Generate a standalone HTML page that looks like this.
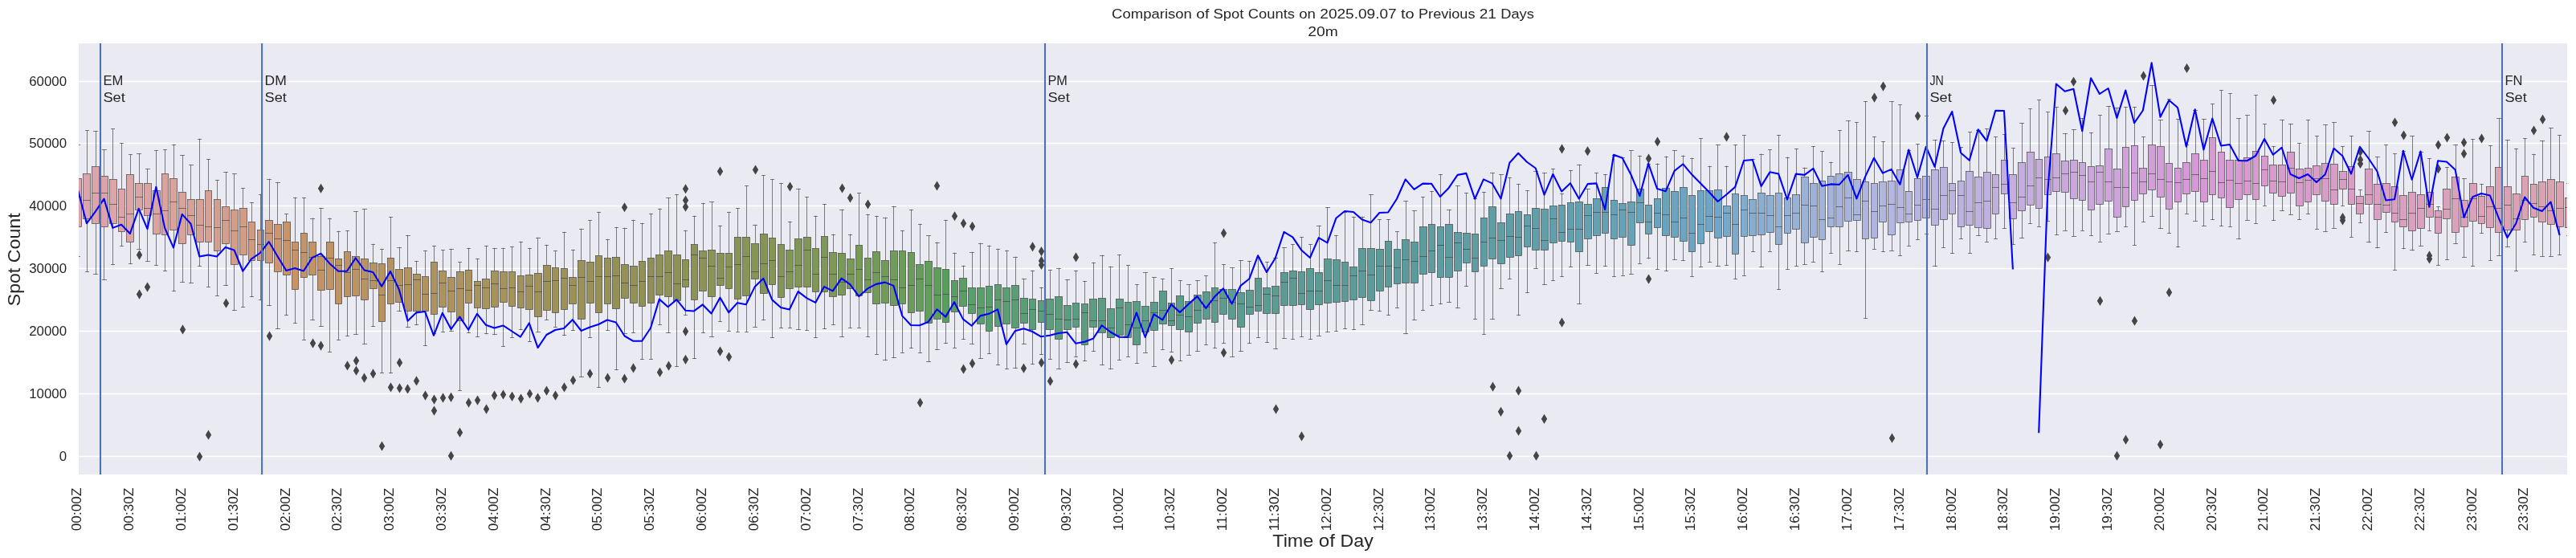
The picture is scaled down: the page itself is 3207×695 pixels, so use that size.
<!DOCTYPE html>
<html><head><meta charset="utf-8"><title>Comparison of Spot Counts</title>
<style>html,body{margin:0;padding:0;background:#fff}body{width:3207px;height:695px;overflow:hidden;font-family:"Liberation Sans",sans-serif}svg{display:block}</style>
</head><body>
<svg width="3207" height="695" viewBox="0 0 3207 695" role="img" aria-label="Comparison of Spot Counts on 2025.09.07 to Previous 21 Days, 20m">
<defs><clipPath id="c"><rect x="98" y="54" width="3098" height="537"/></clipPath></defs>
<rect width="3207" height="695" fill="#fff"/>
<rect x="98" y="54" width="3098" height="537" fill="#eaeaf2"/>
<path d="M98 568.5H3196M98 490.5H3196M98 412.5H3196M98 334.5H3196M98 256.5H3196M98 178.5H3196M98 101.5H3196" stroke="#fff" stroke-width="1.39" fill="none"/>
<g clip-path="url(#c)">
<path d="M97.5 222.56V180.25M95.5 180.5H99.5M97.5 282.08V319.31M95.5 319.5H99.5M108.5 216.74V162.5M106.5 162.5H110.5M108.5 272.45V338.26M106.5 338.5H110.5M119.5 207.37V163.5M116.5 163.5H121.5M119.5 278.03V341.52M116.5 341.5H121.5M129.5 219.78V186.5M127.5 186.5H132.5M129.5 282.08V348.55M127.5 348.5H132.5M140.5 223.83V160.5M138.5 160.5H142.5M140.5 278.03V329.73M138.5 329.5H142.5M151.5 235.99V178.5M149.5 178.5H153.5M151.5 288.16V306.39M149.5 306.5H153.5M162.5 217.5V192.5M160.5 192.5H164.5M162.5 301.32V328.48M160.5 328.5H164.5M173.5 228.9V191.5M170.5 191.5H175.5M173.5 261.82V310.44M170.5 310.5H175.5M183.5 228.9V210.5M181.5 210.5H186.5M183.5 268.91V325.47M181.5 325.5H186.5M194.5 237.76V187.5M192.5 187.5H196.5M194.5 291.19V330.49M192.5 330.5H196.5M205.5 216.74V186.5M203.5 186.5H207.5M205.5 292.21V337.51M203.5 337.5H207.5M216.5 222.82V180.25M214.5 180.5H218.5M216.5 286.13V362.59M214.5 362.5H218.5M227.5 239.79V193.5M224.5 193.5H229.5M227.5 303.1V351.55M224.5 351.5H229.5M237.5 248.9V205.5M235.5 205.5H240.5M237.5 292.21V352.56M235.5 352.5H240.5M248.5 248.9V173.25M246.5 173.5H250.5M248.5 301.32V331.49M246.5 331.5H250.5M259.5 237.76V198.5M257.5 198.5H261.5M259.5 301.32V357.57M257.5 357.5H261.5M270.5 248.9V224.5M268.5 224.5H272.5M270.5 312.21V368.36M268.5 368.5H272.5M281.5 257.01V214.5M278.5 214.5H283.5M281.5 303.1V355.57M278.5 355.5H283.5M291.5 261.06V216.5M289.5 216.5H294.5M291.5 329.73V386.67M289.5 386.5H294.5M302.5 259.03V234.5M300.5 234.5H304.5M302.5 317.28V382.4M300.5 382.5H304.5M313.5 276.25V252.5M311.5 252.5H315.5M313.5 324.47V369.61M311.5 369.5H315.5M324.5 286.13V242.25M322.5 242.5H326.5M324.5 324.47V373.63M322.5 373.5H326.5M335.5 274.99V223.25M332.5 223.5H337.5M335.5 327.48V380.65M332.5 380.5H337.5M345.5 279.29V227.25M343.5 227.5H348.5M345.5 338.51V409.49M343.5 409.5H348.5M356.5 276.25V266.5M354.5 266.5H358.5M356.5 342.53V392.69M354.5 392.5H358.5M367.5 301.32V246.25M365.5 246.5H369.5M367.5 360.33V402.47M365.5 402.5H369.5M378.5 290.18V246.25M376.5 246.5H380.5M378.5 345.54V423.28M376.5 423.5H380.5M389.5 301.32V272M386.5 272.5H391.5M389.5 342.53V398.71M386.5 398.5H391.5M399.5 319.31V259.25M397.5 259.5H402.5M399.5 361.59V406.48M397.5 406.5H402.5M410.5 301.32V272M408.5 272.5H412.5M410.5 360.33V438.33M408.5 438.5H412.5M421.5 322.6V288.2M419.5 288.5H423.5M421.5 378.64V423.54M419.5 423.5H423.5M432.5 313.36V287.45M430.5 287.5H434.5M432.5 369.47V418.52M430.5 418.5H434.5M443.5 319.4V263.53M440.5 263.5H445.5M443.5 368.47V416.51M440.5 416.5H445.5M453.5 322.42V260.52M451.5 260.5H456.5M453.5 373.5V428.55M451.5 428.5H456.5M464.5 327.45V304.31M462.5 304.5H466.5M464.5 359.41V406.48M462.5 406.5H466.5M475.5 328.46V310.35M473.5 310.5H477.5M475.5 400.67V464.67M473.5 464.5H477.5M486.5 321.42V270.55M484.5 270.5H488.5M486.5 378.53V464.67M484.5 464.5H488.5M497.5 335.51V308.33M494.5 308.5H499.5M497.5 376.52V387.59M494.5 387.5H499.5M507.5 333.49V293.24M505.5 293.5H510.5M507.5 387.59V407.72M505.5 407.5H510.5M518.5 341.55V325.44M516.5 325.5H520.5M518.5 387.59V404.7M516.5 404.5H520.5M529.5 344.56V312.36M527.5 312.5H531.5M529.5 387.59V430.56M527.5 430.5H531.5M540.5 326.45V306.32M538.5 306.5H542.5M540.5 391.36V415.76M538.5 415.5H542.5M551.5 337.52V311.35M549.5 311.5H553.5M551.5 382.56V413.76M549.5 413.5H553.5M561.5 345.57V310.35M559.5 310.5H564.5M561.5 388.6V412.5M559.5 412.5H564.5M572.5 338.53V326.45M570.5 326.5H574.5M572.5 399.42V486.49M570.5 486.5H574.5M583.5 336.51V309.34M581.5 309.5H585.5M583.5 377.53V414.51M581.5 414.5H585.5M594.5 350.6V322.42M592.5 322.5H596.5M594.5 383.56V419.55M592.5 419.5H596.5M605.5 347.58V306.32M603.5 306.5H607.5M605.5 384.32V415.77M603.5 415.5H607.5M615.5 337.52V309.34M613.5 309.5H618.5M615.5 382.56V416.78M613.5 416.5H618.5M626.5 338.53V309.34M624.5 309.5H628.5M626.5 376.52V431.56M624.5 431.5H628.5M637.5 338.53V307.33M635.5 307.5H639.5M637.5 381.55V420.53M635.5 420.5H639.5M648.5 343.56V301.29M646.5 301.5H650.5M648.5 383.31V410.74M646.5 410.5H650.5M659.5 342.55V309.34M657.5 309.5H661.5M659.5 385.58V425.54M657.5 425.5H661.5M669.5 340.54V296.25M667.5 296.5H672.5M669.5 394.64V413.76M667.5 413.5H672.5M680.5 330.47V305.31M678.5 305.5H682.5M680.5 386.58V398.41M678.5 398.5H682.5M691.5 333.49V312.36M689.5 312.5H693.5M691.5 389.6V407.72M689.5 407.5H693.5M702.5 334.5V289.21M700.5 289.5H704.5M702.5 385.58V417.78M700.5 417.5H704.5M713.5 345.57V311.35M711.5 311.5H715.5M713.5 378.53V411.49M711.5 411.5H715.5M723.5 324.44V285.18M721.5 285.5H726.5M723.5 397.4V469.43M721.5 469.5H726.5M734.5 326.45V274.57M732.5 274.5H736.5M734.5 377.53V420.53M732.5 420.5H736.5M745.5 318.19V264.25M743.5 264.5H747.5M745.5 389.21V482.47M743.5 482.5H747.5M756.5 321.2V298.25M754.5 298.5H758.5M756.5 378.16V411.5M754.5 411.5H758.5M767.5 320.2V283.25M765.5 283.5H769.5M767.5 384.19V460.65M765.5 460.5H769.5M777.5 329.23V284.25M775.5 284.5H780.5M777.5 371.14V415.51M775.5 415.5H780.5M788.5 331.24V274.25M786.5 274.5H790.5M788.5 377.16V414.51M786.5 414.5H790.5M799.5 325.22V278.25M797.5 278.5H801.5M799.5 381.18V447.61M797.5 447.5H801.5M810.5 321.2V266.25M808.5 266.5H812.5M810.5 377.16V447.61M808.5 447.5H812.5M821.5 317.19V260.25M819.5 260.5H823.5M821.5 367.12V404.47M819.5 404.5H823.5M832.5 312.17V246.5M829.5 246.5H834.5M832.5 369.13V414.51M829.5 414.5H834.5M842.5 317.19V242.25M840.5 242.5H844.5M842.5 374.65V456.64M840.5 456.5H844.5M853.5 323.21V287.25M851.5 287.5H855.5M853.5 357.08V392.44M851.5 392.5H855.5M864.5 304.14V269.25M862.5 269.5H866.5M864.5 373.14V446.61M862.5 446.5H866.5M875.5 312.17V253.25M873.5 253.5H877.5M875.5 362.1V414.51M873.5 414.5H877.5M886.5 311.16V251.5M883.5 251.5H888.5M886.5 369.13V419.52M883.5 419.5H888.5M896.5 315.18V281.25M894.5 281.5H898.5M896.5 355.08V400.46M894.5 400.5H898.5M907.5 315.18V264.25M905.5 264.5H909.5M907.5 359.09V412.5M905.5 412.5H909.5M918.5 295.1V259.5M916.5 259.5H920.5M918.5 372.14V413.5M916.5 413.5H920.5M929.5 295.1V231.5M927.5 231.5H931.5M929.5 368.13V413.5M927.5 413.5H931.5M940.5 303.13V280.25M937.5 280.5H942.5M940.5 347.05V407.48M937.5 407.5H942.5M950.5 291.34V218.5M948.5 218.5H952.5M950.5 365.11V398.45M948.5 398.5H952.5M961.5 296.11V223.5M959.5 223.5H963.5M961.5 354.07V420.53M959.5 420.5H963.5M972.5 304.14V228.25M970.5 228.5H974.5M972.5 370.13V408.49M970.5 408.5H974.5M983.5 311.16V276.25M981.5 276.5H985.5M983.5 359.09V408.49M981.5 408.5H985.5M994.5 297.11V235.25M991.5 235.5H996.5M994.5 357.08V410.49M991.5 410.5H996.5M1004.5 295.1V245.5M1002.5 245.5H1006.5M1004.5 357.08V411.5M1002.5 411.5H1006.5M1015.5 309.15V269.25M1013.5 269.5H1017.5M1015.5 363.11V420.53M1013.5 420.5H1017.5M1026.5 294.1V254.5M1024.5 254.5H1028.5M1026.5 363.11V409.49M1024.5 409.5H1028.5M1037.5 314.17V292M1035.5 292.5H1039.5M1037.5 369.13V404.47M1035.5 404.5H1039.5M1048.5 315.18V261.25M1045.5 261.5H1050.5M1048.5 367.12V419.52M1045.5 419.5H1050.5M1058.5 322.2V292M1056.5 292.5H1060.5M1058.5 359.09V408.49M1056.5 408.5H1060.5M1069.5 305.06V240.5M1067.5 240.5H1071.5M1069.5 368.47V408.22M1067.5 408.5H1071.5M1080.5 321.16V267.25M1078.5 267.5H1082.5M1080.5 364.44V419.55M1078.5 419.5H1082.5M1091.5 313.11V269.25M1089.5 269.5H1093.5M1091.5 378.28V441.59M1089.5 441.5H1093.5M1102.5 324.18V271.25M1099.5 271.5H1104.5M1102.5 377.27V448.62M1099.5 448.5H1104.5M1112.5 312.11V257.25M1110.5 257.5H1115.5M1112.5 380.29V445.61M1110.5 445.5H1115.5M1123.5 312.11V287.25M1121.5 287.5H1125.5M1123.5 378.28V439.59M1121.5 439.5H1125.5M1134.5 314.12V261.5M1132.5 261.5H1136.5M1134.5 389.35V433.57M1132.5 433.5H1136.5M1145.5 329.22V279.25M1143.5 279.5H1147.5M1145.5 387.34V439.59M1143.5 439.5H1147.5M1156.5 325.19V293.99M1153.5 293.5H1158.5M1156.5 402.18V450.37M1153.5 450.5H1158.5M1166.5 333.24V302.04M1164.5 302.5H1169.5M1166.5 397.4V435.57M1164.5 435.5H1169.5M1177.5 335.25V274.25M1175.5 274.5H1179.5M1177.5 401.43V427.55M1175.5 427.5H1179.5M1188.5 349.35V315.13M1186.5 315.5H1190.5M1188.5 388.35V433.57M1186.5 433.5H1190.5M1199.5 346.33V331.23M1197.5 331.5H1201.5M1199.5 381.3V422.53M1197.5 422.5H1201.5M1210.5 358.15V314.12M1207.5 314.5H1212.5M1210.5 390.36V428.55M1207.5 428.5H1212.5M1220.5 358.15V303.05M1218.5 303.5H1223.5M1220.5 403.44V446.61M1218.5 446.5H1223.5M1231.5 356.39V306.07M1229.5 306.5H1233.5M1231.5 412.5V440.59M1229.5 440.5H1233.5M1242.5 354.38V310.09M1240.5 310.5H1244.5M1242.5 406.46V454.64M1240.5 454.5H1244.5M1253.5 358.15V312.11M1251.5 312.5H1255.5M1253.5 403.44V459.65M1251.5 459.5H1255.5M1264.5 355.38V320.16M1261.5 320.5H1266.5M1264.5 408.47V458.65M1261.5 458.5H1266.5M1274.5 371.49V347.33M1272.5 347.5H1277.5M1274.5 402.44V428.55M1272.5 428.5H1277.5M1285.5 372.24V337.27M1283.5 337.5H1287.5M1285.5 410.49V453.63M1283.5 453.5H1287.5M1296.5 374.25V358.15M1294.5 358.5H1298.5M1296.5 401.43V441.59M1294.5 441.5H1298.5M1307.5 372.24V336.26M1305.5 336.5H1309.5M1307.5 410.49V447.61M1305.5 447.5H1309.5M1318.5 369.47V334.25M1315.5 334.5H1320.5M1318.5 422.31V459.65M1315.5 459.5H1320.5M1328.5 380.29V348.34M1326.5 348.5H1331.5M1328.5 410.49V451.63M1326.5 451.5H1331.5M1339.5 377.27V337.27M1337.5 337.5H1341.5M1339.5 407.22V444.6M1337.5 444.5H1341.5M1350.5 378.28V350.35M1348.5 350.5H1352.5M1350.5 429.36V449.62M1348.5 449.5H1352.5M1361.5 372.24V327.2M1359.5 327.5H1363.5M1361.5 407.22V437.58M1359.5 437.5H1363.5M1372.5 371.49V318.15M1369.5 318.5H1374.5M1372.5 414.26V454.64M1369.5 454.5H1374.5M1382.5 384.57V332.24M1380.5 332.5H1385.5M1382.5 420.55V459.65M1380.5 459.5H1385.5M1393.5 372.62V317.45M1391.5 317.5H1395.5M1393.5 417.52V448.34M1391.5 448.5H1395.5M1404.5 376.64V330.49M1402.5 330.5H1406.5M1404.5 420.53V444.33M1402.5 444.5H1406.5M1415.5 375.38V354.56M1413.5 354.5H1417.5M1415.5 429.55V452.36M1413.5 452.5H1417.5M1426.5 381.65V339.52M1423.5 339.5H1428.5M1426.5 413.5V439.34M1423.5 439.5H1428.5M1436.5 376.64V345.54M1434.5 345.5H1439.5M1436.5 411.5V456.37M1434.5 456.5H1439.5M1447.5 362.59V347.54M1445.5 347.5H1449.5M1447.5 403.47V435.57M1445.5 435.5H1449.5M1458.5 377.64V334.5M1456.5 334.5H1460.5M1458.5 405.48V438.33M1456.5 438.5H1460.5M1469.5 368.36V349.55M1467.5 349.5H1471.5M1469.5 410.49V449.35M1467.5 449.5H1471.5M1480.5 375.38V354.56M1477.5 354.5H1482.5M1480.5 413.5V442.32M1477.5 442.5H1482.5M1490.5 367.61V349.55M1488.5 349.5H1493.5M1490.5 402.47V437.58M1488.5 437.5H1493.5M1501.5 363.59V343.53M1499.5 343.5H1503.5M1501.5 397.45V429.55M1499.5 429.5H1503.5M1512.5 358.58V302.4M1510.5 302.5H1514.5M1512.5 401.46V433.57M1510.5 433.5H1514.5M1523.5 360.58V329.48M1521.5 329.5H1525.5M1523.5 391.43V427.55M1521.5 427.5H1525.5M1534.5 360.58V333.5M1531.5 333.5H1536.5M1534.5 397.45V444.33M1531.5 444.5H1536.5M1544.5 364.6V324.47M1542.5 324.5H1547.5M1544.5 407.48V437.58M1542.5 437.5H1547.5M1555.5 361.59V325.47M1553.5 325.5H1557.5M1555.5 391.43V427.55M1553.5 427.5H1557.5M1566.5 346.54V320.45M1564.5 320.5H1568.5M1566.5 387.42V420.53M1564.5 420.5H1568.5M1577.5 358.58V326.47M1575.5 326.5H1579.5M1577.5 390.43V426.55M1575.5 426.5H1579.5M1588.5 356.57V321.46M1585.5 321.5H1590.5M1588.5 390.43V434.57M1585.5 434.5H1590.5M1598.5 339.52V308.42M1596.5 308.5H1601.5M1598.5 380.65V421.53M1596.5 421.5H1601.5M1609.5 337.51V304.4M1607.5 304.5H1611.5M1609.5 380.65V422.53M1607.5 422.5H1611.5M1620.5 338.51V295.4M1618.5 295.5H1622.5M1620.5 379.64V419.52M1618.5 419.5H1622.5M1631.5 334.5V304.4M1629.5 304.5H1633.5M1631.5 385.66V422.53M1629.5 422.5H1633.5M1642.5 339.52V281.34M1639.5 281.5H1644.5M1642.5 379.64V418.27M1639.5 418.5H1644.5M1652.5 322.46V258.51M1650.5 258.5H1655.5M1652.5 377.64V413.5M1650.5 413.5H1655.5M1663.5 323.46V293.39M1661.5 293.5H1665.5M1663.5 376.64V412.5M1661.5 412.5H1665.5M1674.5 326.47V264.53M1672.5 264.5H1676.5M1674.5 375.38V409.49M1672.5 409.5H1676.5M1685.5 332.49V270.3M1683.5 270.5H1687.5M1685.5 373.63V410.49M1683.5 410.5H1687.5M1696.5 309.42V270.3M1693.5 270.5H1698.5M1696.5 370.62V404.47M1693.5 404.5H1698.5M1706.5 309.42V242.45M1704.5 242.5H1709.5M1706.5 374.63V386.67M1704.5 386.5H1709.5M1717.5 310.42V273.55M1715.5 273.5H1719.5M1717.5 362.59V387.67M1715.5 387.5H1719.5M1728.5 300.39V273.55M1726.5 273.5H1730.5M1728.5 357.57V392.69M1726.5 392.5H1730.5M1739.5 310.42V288.6M1737.5 288.5H1741.5M1739.5 353.56V383.66M1737.5 383.5H1741.5M1750.5 298.38V250.48M1747.5 250.5H1752.5M1750.5 352.56V415.76M1747.5 415.5H1752.5M1760.5 301.39V262.52M1758.5 262.5H1763.5M1760.5 352.56V398.45M1758.5 398.5H1763.5M1771.5 282.58V245.46M1769.5 245.5H1773.5M1771.5 341.27V386.67M1769.5 386.5H1773.5M1782.5 279.57V238.44M1780.5 238.5H1784.5M1782.5 339.52V380.65M1780.5 380.5H1784.5M1793.5 282.58V217.37M1791.5 217.5H1795.5M1793.5 345.54V378.64M1791.5 378.5H1795.5M1804.5 279.57V261.52M1801.5 261.5H1806.5M1804.5 345.54V376.64M1801.5 376.5H1806.5M1814.5 289.61V231.42M1812.5 231.5H1817.5M1814.5 337.51V383.66M1812.5 383.5H1817.5M1825.5 290.61V240.45M1823.5 240.5H1827.5M1825.5 327.23V356.57M1823.5 356.5H1827.5M1836.5 291.61V247.72M1834.5 247.5H1838.5M1836.5 338.51V397.7M1834.5 397.5H1838.5M1847.5 271.55V239.45M1845.5 239.5H1849.5M1847.5 331.49V416.51M1845.5 416.5H1849.5M1858.5 257.5V215.37M1855.5 215.5H1860.5M1858.5 322.46V397.7M1855.5 397.5H1860.5M1868.5 277.57V217.37M1866.5 217.5H1871.5M1868.5 328.48V359.58M1866.5 359.5H1871.5M1879.5 266.53V221.39M1877.5 221.5H1881.5M1879.5 320.45V347.54M1877.5 347.5H1881.5M1890.5 263.52V229.41M1888.5 229.5H1892.5M1890.5 318.45V392.69M1888.5 392.5H1892.5M1901.5 267.54V237.44M1899.5 237.5H1903.5M1901.5 307.41V364.6M1899.5 364.5H1903.5M1912.5 259.51V213.36M1909.5 213.5H1914.5M1912.5 311.43V334.25M1909.5 334.5H1914.5M1922.5 260.51V215.37M1920.5 215.5H1925.5M1922.5 311.43V354.56M1920.5 354.5H1925.5M1933.5 256.5V210.35M1931.5 210.5H1935.5M1933.5 302.4V349.3M1931.5 349.5H1935.5M1944.5 255.5V241.45M1942.5 241.5H1946.5M1944.5 300.39V344.53M1942.5 344.5H1946.5M1955.5 252.49V212.36M1953.5 212.5H1957.5M1955.5 301.39V332.49M1953.5 332.5H1957.5M1966.5 251.48V205.25M1963.5 205.5H1968.5M1966.5 313.43V378.64M1963.5 378.5H1968.5M1976.5 254.49V235.43M1974.5 235.5H1979.5M1976.5 297.38V330.49M1974.5 330.5H1979.5M1987.5 247.47V215.37M1985.5 215.5H1989.5M1987.5 293.37V340.52M1985.5 340.5H1989.5M1998.5 233.43V217.37M1996.5 217.5H2000.5M1998.5 290.61V331.49M1996.5 331.5H2000.5M2009.5 249.48V193.25M2007.5 193.5H2011.5M2009.5 297.38V344.53M2007.5 344.5H2011.5M2020.5 253.49V196.25M2018.5 196.5H2022.5M2020.5 295.37V343.53M2018.5 343.5H2022.5M2030.5 251.48V187.5M2028.5 187.5H2033.5M2030.5 305.41V341.27M2028.5 341.5H2033.5M2041.5 235.17V194.02M2039.5 194.5H2043.5M2041.5 277.08V328.02M2039.5 328.5H2043.5M2052.5 255.25V204.33M2050.5 204.5H2054.5M2052.5 291.13V322M2050.5 321.5H2054.5M2063.5 247.22V204.05M2061.5 204.5H2065.5M2063.5 283.1V335.5M2061.5 335.5H2065.5M2074.5 234.17V195.02M2072.5 195.5H2076.5M2074.5 293.14V337.51M2072.5 337.5H2076.5M2084.5 238.18V187.53M2082.5 187.5H2087.5M2084.5 295.14V323.25M2082.5 323.5H2087.5M2095.5 233.16V194.02M2093.5 194.5H2097.5M2095.5 300.16V324.25M2093.5 324.5H2097.5M2106.5 243.2V197.03M2104.5 197.5H2108.5M2106.5 313.97V344.53M2104.5 344.5H2108.5M2117.5 237.18V172.48M2115.5 172.5H2119.5M2117.5 303.18V332.49M2115.5 332.5H2119.5M2128.5 237.18V207.06M2126.5 207.5H2130.5M2128.5 288.12V326.26M2126.5 326.5H2130.5M2138.5 236.17V180.51M2136.5 180.5H2141.5M2138.5 296.15V331.49M2136.5 331.5H2141.5M2149.5 256.25V207.06M2147.5 207.5H2151.5M2149.5 294.14V330.49M2147.5 330.5H2151.5M2160.5 241.19V180.51M2158.5 180.5H2162.5M2160.5 316.22V347.54M2158.5 347.5H2162.5M2171.5 243.2V168.47M2169.5 168.5H2173.5M2171.5 294.14V343.53M2169.5 343.5H2173.5M2182.5 248.22V198.06M2180.5 198.5H2184.5M2182.5 293.14V313.21M2180.5 313.5H2184.5M2192.5 240.19V192.01M2190.5 192.5H2195.5M2192.5 292.13V332.49M2190.5 332.5H2195.5M2203.5 243.2V186.53M2201.5 186.5H2205.5M2203.5 289.12V313.21M2201.5 313.5H2205.5M2214.5 240.19V168.47M2212.5 168.5H2216.5M2214.5 304.18V360.58M2212.5 360.5H2216.5M2225.5 246.21V196.02M2223.5 196.5H2227.5M2225.5 290.13V335.5M2223.5 335.5H2227.5M2236.5 242.2V185.52M2234.5 185.5H2238.5M2236.5 285.11V331.49M2234.5 331.5H2238.5M2246.5 220.11V209.07M2244.5 209.5H2249.5M2246.5 302.17V329.02M2244.5 329.5H2249.5M2257.5 228.14V182.51M2255.5 182.5H2259.5M2257.5 295.14V326.26M2255.5 326.5H2259.5M2268.5 225.13V188.53M2266.5 188.5H2270.5M2268.5 298.16V338.51M2266.5 338.5H2270.5M2279.5 219.11V202.05M2277.5 202.5H2281.5M2279.5 282.1V315.22M2277.5 315.5H2281.5M2290.5 216.1V162.7M2288.5 162.5H2292.5M2290.5 282.1V329.02M2288.5 329.5H2292.5M2301.5 214.09V150.66M2298.5 150.5H2303.5M2301.5 275.07V312.21M2298.5 312.5H2303.5M2311.5 223.12V152.42M2309.5 152.5H2313.5M2311.5 274.07V313.21M2309.5 313.5H2313.5M2322.5 226.14V126.58M2320.5 126.5H2324.5M2322.5 297.15V396.45M2320.5 396.5H2324.5M2333.5 228.14V170.47M2331.5 170.5H2335.5M2333.5 296.15V310.2M2331.5 310.5H2335.5M2344.5 226.14V176.49M2342.5 176.5H2346.5M2344.5 276.07V313.21M2342.5 313.5H2346.5M2355.5 225.13V126.58M2352.5 126.5H2357.5M2355.5 292.13V312.21M2352.5 312.5H2357.5M2365.5 211.5V130.75M2363.5 130.5H2367.5M2365.5 277.25V318.4M2363.5 318.5H2367.5M2376.5 238.25V187M2374.5 187.5H2378.5M2376.5 276.25V306.25M2374.5 306.5H2378.5M2387.5 222.5V179.5M2385.5 179.5H2389.5M2387.5 274.25V298.25M2385.5 298.5H2389.5M2398.5 219.5V144.5M2396.5 144.5H2400.5M2398.5 271.25V291.25M2396.5 291.5H2400.5M2409.5 211.5V174.5M2406.5 174.5H2411.5M2409.5 280.25V331.48M2406.5 331.5H2411.5M2419.5 208.5V175.5M2417.5 175.5H2421.5M2419.5 273.25V308M2417.5 308.5H2421.5M2430.5 228.5V177.5M2428.5 177.5H2432.5M2430.5 266.25V315.38M2428.5 315.5H2432.5M2441.5 225.5V183.5M2439.5 183.5H2443.5M2441.5 282.25V297.25M2439.5 297.5H2443.5M2452.5 213.5V164.5M2450.5 164.5H2454.5M2452.5 280.25V315.38M2450.5 315.5H2454.5M2463.5 220.5V162M2460.5 162.5H2465.5M2463.5 283.25V293.25M2460.5 293.5H2465.5M2473.5 214.5V160.5M2471.5 160.5H2475.5M2473.5 284.25V301M2471.5 301.5H2475.5M2484.5 217.5V170.5M2482.5 170.5H2486.5M2484.5 266.25V297.25M2482.5 297.5H2486.5M2495.5 199.5V167.5M2493.5 167.5H2497.5M2495.5 241.5V284.25M2493.5 284.5H2497.5M2506.5 217.5V184.5M2504.5 184.5H2508.5M2506.5 272.25V304.25M2504.5 304.5H2508.5M2517.5 202.5V153.5M2514.5 153.5H2519.5M2517.5 262.25V296.25M2514.5 296.5H2519.5M2527.5 189.5V135.75M2525.5 135.5H2529.5M2527.5 255.25V278.25M2525.5 278.5H2529.5M2538.5 198.5V124.75M2536.5 124.5H2540.5M2538.5 259.25V282.25M2536.5 282.5H2540.5M2549.5 195.5V139.75M2547.5 139.5H2551.5M2549.5 242.5V275.25M2547.5 275.5H2551.5M2560.5 191.5V133.75M2558.5 133.5H2562.5M2560.5 238.25V292.25M2558.5 292.5H2562.5M2571.5 200.5V166.5M2568.5 166.5H2573.5M2571.5 239.5V287M2568.5 287.5H2573.5M2581.5 199.5V161.5M2579.5 161.5H2584.5M2581.5 247.5V294M2579.5 294.5H2584.5M2592.5 202.5V147.5M2590.5 147.5H2594.5M2592.5 249.5V287M2590.5 287.5H2594.5M2603.5 207.5V165.5M2601.5 165.5H2605.5M2603.5 261.25V293.25M2601.5 293.5H2605.5M2614.5 206.5V143.5M2612.5 143.5H2616.5M2614.5 254.25V301M2612.5 301.5H2616.5M2625.5 185.5V132.75M2622.5 132.5H2627.5M2625.5 250.5V291.25M2622.5 291.5H2627.5M2635.5 210.5V134.75M2633.5 134.5H2638.5M2635.5 270.25V288.25M2633.5 288.5H2638.5M2646.5 183.5V133.75M2644.5 133.5H2648.5M2646.5 257.25V282.25M2644.5 282.5H2648.5M2657.5 181.5V133.75M2655.5 133.5H2659.5M2657.5 249.5V305.25M2655.5 305.5H2659.5M2668.5 209.5V170.5M2666.5 170.5H2670.5M2668.5 241.5V276.25M2666.5 276.5H2670.5M2679.5 180.5V106.75M2676.5 106.5H2681.5M2679.5 236.5V269.25M2676.5 269.5H2681.5M2689.5 182.5V149.75M2687.5 149.5H2692.5M2689.5 245.25V284.68M2687.5 284.5H2692.5M2700.5 203.5V123.75M2698.5 123.5H2702.5M2700.5 260.25V290.25M2698.5 290.5H2702.5M2711.5 209.5V148.75M2709.5 148.5H2713.5M2711.5 251.25V307.83M2709.5 307.5H2713.5M2722.5 202.5V180.5M2720.5 180.5H2724.5M2722.5 241.25V266.25M2720.5 266.5H2724.5M2733.5 191.5V137.75M2730.5 137.5H2735.5M2733.5 238.5V275.25M2730.5 275.5H2735.5M2743.5 199.5V148.75M2741.5 148.5H2746.5M2743.5 251.25V281.25M2741.5 281.5H2746.5M2754.5 171.5V129.5M2752.5 129.5H2756.5M2754.5 242.25V273.25M2752.5 273.5H2756.5M2765.5 189.5V112.75M2763.5 112.5H2767.5M2765.5 246.25V281.25M2763.5 281.5H2767.5M2776.5 199.5V116.75M2774.5 116.5H2778.5M2776.5 258.25V282.25M2774.5 282.5H2778.5M2787.5 199.5V147.75M2784.5 147.5H2789.5M2787.5 248.25V297.76M2784.5 297.5H2789.5M2797.5 196.5V143.75M2795.5 143.5H2800.5M2797.5 242.25V274.25M2795.5 274.5H2800.5M2808.5 188.5V118.75M2806.5 118.5H2810.5M2808.5 248.25V278M2806.5 278.5H2810.5M2819.5 194.5V154.5M2817.5 154.5H2821.5M2819.5 231.5V256.25M2817.5 256.5H2821.5M2830.5 205.5V182.5M2828.5 182.5H2832.5M2830.5 240.5V274.25M2828.5 274.5H2832.5M2841.5 205.5V149.75M2838.5 149.5H2843.5M2841.5 244.25V262.25M2838.5 262.5H2843.5M2851.5 189.5V154.5M2849.5 154.5H2854.5M2851.5 240.5V267.25M2849.5 267.5H2854.5M2862.5 210.5V178.5M2860.5 178.5H2864.5M2862.5 256.25V273.25M2860.5 273.5H2864.5M2873.5 209.5V149.75M2871.5 149.5H2875.5M2873.5 251.25V266.25M2871.5 266.5H2875.5M2884.5 206.5V169.5M2882.5 169.5H2886.5M2884.5 242.25V285.25M2882.5 285.5H2886.5M2895.5 203.5V155.5M2892.5 155.5H2897.5M2895.5 250.25V288.25M2892.5 288.5H2897.5M2905.5 204.5V152.5M2903.5 152.5H2908.5M2905.5 254.25V284M2903.5 284.5H2908.5M2916.5 213.5V182.5M2914.5 182.5H2918.5M2916.5 235.25V256.25M2914.5 256.5H2918.5M2927.5 207.5V169.5M2925.5 169.5H2929.5M2927.5 254.25V295.25M2925.5 295.5H2929.5M2938.5 244.5V236.5M2936.5 236.5H2940.5M2938.5 266.25V277M2936.5 277.5H2940.5M2949.5 210.5V163.5M2946.5 163.5H2951.5M2949.5 254.25V301.79M2946.5 301.5H2951.5M2959.5 229.5V195.5M2957.5 195.5H2962.5M2959.5 273.25V308.84M2957.5 308.5H2962.5M2970.5 228.25V180.5M2968.5 180.5H2972.5M2970.5 264.25V289.25M2968.5 289.5H2972.5M2981.5 232.5V191.5M2979.5 191.5H2983.5M2981.5 276.25V336.01M2979.5 336.5H2983.5M2992.5 243.5V188.25M2990.5 188.5H2994.5M2992.5 282.25V309.84M2990.5 309.5H2994.5M3003.5 239.5V169.5M3000.5 169.5H3005.5M3003.5 287.25V311.85M3000.5 311.5H3005.5M3013.5 242.25V189.5M3011.5 189.5H3016.5M3013.5 284V306.32M3011.5 306.5H3016.5M3024.5 239.5V197.5M3022.5 197.5H3026.5M3024.5 270.25V287.25M3022.5 287.5H3026.5M3035.5 262.5V257.25M3033.5 257.5H3037.5M3035.5 290.25V330.22M3033.5 330.5H3037.5M3046.5 235.5V208.5M3044.5 208.5H3048.5M3046.5 272.25V323.43M3044.5 323.5H3048.5M3057.5 220.5V180.5M3054.5 180.5H3059.5M3057.5 289.25V303.3M3054.5 303.5H3059.5M3067.5 249.5V222.5M3065.5 222.5H3070.5M3067.5 282.25V320.41M3065.5 320.5H3070.5M3078.5 228.5V173.5M3076.5 173.5H3080.5M3078.5 275.25V331.48M3076.5 331.5H3080.5M3089.5 244.5V229.5M3087.5 229.5H3091.5M3089.5 278.25V290.25M3087.5 290.5H3091.5M3100.5 232.5V181.5M3098.5 181.5H3102.5M3100.5 283.25V324.44M3098.5 324.5H3102.5M3111.5 208.5V147.75M3108.5 147.5H3113.5M3111.5 289.25V318.4M3108.5 318.5H3113.5M3121.5 232.5V174.5M3119.5 174.5H3124.5M3121.5 286.25V307.33M3119.5 307.5H3124.5M3132.5 241.5V185.25M3130.5 185.5H3134.5M3132.5 286.25V337.52M3130.5 337.5H3134.5M3143.5 219.5V172.5M3141.5 172.5H3145.5M3143.5 273.25V301.29M3141.5 301.5H3145.5M3154.5 229.5V192.25M3152.5 192.5H3156.5M3154.5 270.25V317.39M3152.5 317.5H3156.5M3165.5 226.5V175.5M3162.5 175.5H3167.5M3165.5 276.25V319.4M3162.5 319.5H3167.5M3175.5 223.5V159.5M3173.5 159.5H3178.5M3175.5 279.25V319.4M3173.5 319.5H3178.5M3186.5 226.5V168.5M3184.5 168.5H3188.5M3186.5 282.25V317.39M3184.5 317.5H3188.5M3197.5 246.5V228.5M3195.5 228.5H3199.5M3197.5 283.25V293.25M3195.5 293.5H3199.5" stroke="#454545" stroke-width="0.69" fill="none" stroke-linecap="square"/>
<g stroke="#454545" stroke-width="0.69">
<rect x="93.5" y="222.5" width="8" height="60" fill="#dca4ad"/>
<rect x="103.5" y="216.5" width="9" height="56" fill="#dca4ac"/>
<rect x="114.5" y="207.5" width="9" height="71" fill="#dca4ab"/>
<rect x="125.5" y="219.5" width="9" height="63" fill="#dca4aa"/>
<rect x="136.5" y="223.5" width="9" height="55" fill="#dca5a8"/>
<rect x="147.5" y="235.5" width="8" height="53" fill="#dca5a7"/>
<rect x="157.5" y="217.5" width="9" height="84" fill="#dca5a6"/>
<rect x="168.5" y="228.5" width="9" height="33" fill="#dca5a5"/>
<rect x="179.5" y="228.5" width="9" height="40" fill="#dba4a3"/>
<rect x="190.5" y="237.5" width="9" height="54" fill="#dba4a1"/>
<rect x="201.5" y="216.5" width="8" height="76" fill="#daa39f"/>
<rect x="211.5" y="222.5" width="9" height="64" fill="#d9a39c"/>
<rect x="222.5" y="239.5" width="9" height="64" fill="#d9a29a"/>
<rect x="233.5" y="248.5" width="9" height="44" fill="#d8a197"/>
<rect x="244.5" y="248.5" width="9" height="53" fill="#d7a195"/>
<rect x="255.5" y="237.5" width="8" height="64" fill="#d6a092"/>
<rect x="266.5" y="248.5" width="8" height="64" fill="#d59f8f"/>
<rect x="276.5" y="257.5" width="9" height="46" fill="#d49e8c"/>
<rect x="287.5" y="261.5" width="9" height="68" fill="#d39d88"/>
<rect x="298.5" y="259.5" width="9" height="58" fill="#d29c85"/>
<rect x="309.5" y="276.5" width="8" height="48" fill="#d09b81"/>
<rect x="320.5" y="286.5" width="8" height="38" fill="#cf997c"/>
<rect x="330.5" y="274.5" width="9" height="53" fill="#cd9877"/>
<rect x="341.5" y="279.5" width="9" height="59" fill="#cb9671"/>
<rect x="352.5" y="276.5" width="9" height="66" fill="#c9946a"/>
<rect x="363.5" y="301.5" width="8" height="59" fill="#c79367"/>
<rect x="374.5" y="290.5" width="8" height="55" fill="#c59366"/>
<rect x="384.5" y="301.5" width="9" height="41" fill="#c39366"/>
<rect x="395.5" y="319.5" width="9" height="42" fill="#c19365"/>
<rect x="406.5" y="301.5" width="9" height="59" fill="#c09364"/>
<rect x="417.5" y="322.5" width="8" height="56" fill="#be9364"/>
<rect x="428.5" y="313.5" width="8" height="56" fill="#bd9363"/>
<rect x="438.5" y="319.5" width="9" height="49" fill="#bb9463"/>
<rect x="449.5" y="322.5" width="9" height="51" fill="#b99462"/>
<rect x="460.5" y="327.5" width="9" height="32" fill="#b89462"/>
<rect x="471.5" y="328.5" width="8" height="72" fill="#b79361"/>
<rect x="482.5" y="321.5" width="8" height="57" fill="#b59361"/>
<rect x="492.5" y="335.5" width="9" height="41" fill="#b49360"/>
<rect x="503.5" y="333.5" width="9" height="54" fill="#b29360"/>
<rect x="514.5" y="341.5" width="9" height="46" fill="#b1935f"/>
<rect x="525.5" y="344.5" width="8" height="43" fill="#b0935f"/>
<rect x="536.5" y="326.5" width="8" height="65" fill="#af935f"/>
<rect x="546.5" y="337.5" width="9" height="45" fill="#ad935e"/>
<rect x="557.5" y="345.5" width="9" height="43" fill="#ac935e"/>
<rect x="568.5" y="338.5" width="9" height="61" fill="#ab935d"/>
<rect x="579.5" y="336.5" width="8" height="41" fill="#aa935d"/>
<rect x="590.5" y="350.5" width="8" height="33" fill="#a8935c"/>
<rect x="600.5" y="347.5" width="9" height="37" fill="#a7935c"/>
<rect x="611.5" y="337.5" width="9" height="45" fill="#a6935c"/>
<rect x="622.5" y="338.5" width="9" height="38" fill="#a5935b"/>
<rect x="633.5" y="338.5" width="8" height="43" fill="#a4935b"/>
<rect x="644.5" y="343.5" width="8" height="40" fill="#a2925a"/>
<rect x="654.5" y="342.5" width="9" height="43" fill="#a1925a"/>
<rect x="665.5" y="340.5" width="9" height="54" fill="#a0925a"/>
<rect x="676.5" y="330.5" width="9" height="56" fill="#9f9259"/>
<rect x="687.5" y="333.5" width="8" height="56" fill="#9e9259"/>
<rect x="698.5" y="334.5" width="8" height="51" fill="#9d9258"/>
<rect x="708.5" y="345.5" width="9" height="33" fill="#9b9258"/>
<rect x="719.5" y="324.5" width="9" height="73" fill="#9a9258"/>
<rect x="730.5" y="326.5" width="9" height="51" fill="#999157"/>
<rect x="741.5" y="318.5" width="8" height="71" fill="#989157"/>
<rect x="752.5" y="321.5" width="8" height="57" fill="#979156"/>
<rect x="762.5" y="320.5" width="9" height="64" fill="#959156"/>
<rect x="773.5" y="329.5" width="9" height="42" fill="#949156"/>
<rect x="784.5" y="331.5" width="9" height="46" fill="#939155"/>
<rect x="795.5" y="325.5" width="8" height="56" fill="#929155"/>
<rect x="806.5" y="321.5" width="8" height="56" fill="#909054"/>
<rect x="816.5" y="317.5" width="9" height="50" fill="#909154"/>
<rect x="827.5" y="312.5" width="9" height="57" fill="#8f9155"/>
<rect x="838.5" y="317.5" width="9" height="57" fill="#8e9255"/>
<rect x="849.5" y="323.5" width="8" height="34" fill="#8d9255"/>
<rect x="860.5" y="304.5" width="8" height="69" fill="#8d9255"/>
<rect x="870.5" y="312.5" width="9" height="50" fill="#8c9355"/>
<rect x="881.5" y="311.5" width="9" height="58" fill="#8b9355"/>
<rect x="892.5" y="315.5" width="9" height="40" fill="#8a9355"/>
<rect x="903.5" y="315.5" width="8" height="44" fill="#899455"/>
<rect x="914.5" y="295.5" width="8" height="77" fill="#889456"/>
<rect x="924.5" y="295.5" width="9" height="73" fill="#879556"/>
<rect x="935.5" y="303.5" width="9" height="44" fill="#869556"/>
<rect x="946.5" y="291.5" width="9" height="74" fill="#859556"/>
<rect x="957.5" y="296.5" width="8" height="58" fill="#849656"/>
<rect x="968.5" y="304.5" width="8" height="66" fill="#839656"/>
<rect x="978.5" y="311.5" width="9" height="48" fill="#829756"/>
<rect x="989.5" y="297.5" width="9" height="60" fill="#819756"/>
<rect x="1000.5" y="295.5" width="9" height="62" fill="#809757"/>
<rect x="1011.5" y="309.5" width="8" height="54" fill="#7f9857"/>
<rect x="1022.5" y="294.5" width="8" height="69" fill="#7d9857"/>
<rect x="1032.5" y="314.5" width="9" height="55" fill="#7c9957"/>
<rect x="1043.5" y="315.5" width="9" height="52" fill="#7a9957"/>
<rect x="1054.5" y="322.5" width="9" height="37" fill="#799a57"/>
<rect x="1065.5" y="305.5" width="8" height="63" fill="#779a57"/>
<rect x="1076.5" y="321.5" width="8" height="43" fill="#759b58"/>
<rect x="1086.5" y="313.5" width="9" height="65" fill="#739b58"/>
<rect x="1097.5" y="324.5" width="9" height="53" fill="#719c58"/>
<rect x="1108.5" y="312.5" width="9" height="68" fill="#6f9c58"/>
<rect x="1119.5" y="312.5" width="8" height="66" fill="#6c9d58"/>
<rect x="1130.5" y="314.5" width="8" height="75" fill="#699d58"/>
<rect x="1140.5" y="329.5" width="9" height="58" fill="#659e59"/>
<rect x="1151.5" y="325.5" width="9" height="77" fill="#619e59"/>
<rect x="1162.5" y="333.5" width="9" height="64" fill="#5c9f59"/>
<rect x="1173.5" y="335.5" width="8" height="66" fill="#599f5c"/>
<rect x="1184.5" y="349.5" width="8" height="39" fill="#599f61"/>
<rect x="1194.5" y="346.5" width="9" height="35" fill="#599f65"/>
<rect x="1205.5" y="358.5" width="9" height="32" fill="#599f69"/>
<rect x="1216.5" y="358.5" width="9" height="45" fill="#599f6c"/>
<rect x="1227.5" y="356.5" width="8" height="56" fill="#599e6f"/>
<rect x="1238.5" y="354.5" width="8" height="52" fill="#5a9e71"/>
<rect x="1248.5" y="358.5" width="9" height="45" fill="#5a9e73"/>
<rect x="1259.5" y="355.5" width="9" height="53" fill="#5a9e75"/>
<rect x="1270.5" y="371.5" width="9" height="31" fill="#5a9e77"/>
<rect x="1281.5" y="372.5" width="8" height="38" fill="#5a9e79"/>
<rect x="1292.5" y="374.5" width="8" height="27" fill="#5a9e7b"/>
<rect x="1302.5" y="372.5" width="9" height="38" fill="#5a9e7c"/>
<rect x="1313.5" y="369.5" width="9" height="53" fill="#5a9d7d"/>
<rect x="1324.5" y="380.5" width="9" height="30" fill="#5a9d7f"/>
<rect x="1335.5" y="377.5" width="8" height="30" fill="#5a9d80"/>
<rect x="1346.5" y="378.5" width="8" height="51" fill="#5a9d81"/>
<rect x="1356.5" y="372.5" width="9" height="35" fill="#5a9d82"/>
<rect x="1367.5" y="371.5" width="9" height="43" fill="#5a9d83"/>
<rect x="1378.5" y="384.5" width="9" height="36" fill="#5a9d84"/>
<rect x="1389.5" y="372.5" width="9" height="45" fill="#5a9d85"/>
<rect x="1400.5" y="376.5" width="8" height="44" fill="#5a9d86"/>
<rect x="1410.5" y="375.5" width="9" height="54" fill="#5a9d87"/>
<rect x="1421.5" y="381.5" width="9" height="32" fill="#5a9d88"/>
<rect x="1432.5" y="376.5" width="9" height="35" fill="#5a9d89"/>
<rect x="1443.5" y="362.5" width="9" height="41" fill="#5a9c8a"/>
<rect x="1454.5" y="377.5" width="8" height="28" fill="#5a9c8b"/>
<rect x="1464.5" y="368.5" width="9" height="42" fill="#5a9c8b"/>
<rect x="1475.5" y="375.5" width="9" height="38" fill="#5b9c8c"/>
<rect x="1486.5" y="367.5" width="9" height="35" fill="#5b9c8d"/>
<rect x="1497.5" y="363.5" width="9" height="34" fill="#5b9c8e"/>
<rect x="1508.5" y="358.5" width="8" height="43" fill="#5b9c8e"/>
<rect x="1518.5" y="360.5" width="9" height="31" fill="#5b9c8f"/>
<rect x="1529.5" y="360.5" width="9" height="37" fill="#5b9c90"/>
<rect x="1540.5" y="364.5" width="9" height="43" fill="#5b9c90"/>
<rect x="1551.5" y="361.5" width="9" height="30" fill="#5b9c91"/>
<rect x="1562.5" y="346.5" width="8" height="41" fill="#5b9c92"/>
<rect x="1572.5" y="358.5" width="9" height="32" fill="#5b9c92"/>
<rect x="1583.5" y="356.5" width="9" height="34" fill="#5b9c93"/>
<rect x="1594.5" y="339.5" width="9" height="41" fill="#5b9b94"/>
<rect x="1605.5" y="337.5" width="9" height="43" fill="#5b9b94"/>
<rect x="1616.5" y="338.5" width="8" height="41" fill="#5b9b95"/>
<rect x="1626.5" y="334.5" width="9" height="51" fill="#5b9b95"/>
<rect x="1637.5" y="339.5" width="9" height="40" fill="#5b9b96"/>
<rect x="1648.5" y="322.5" width="9" height="55" fill="#5b9b96"/>
<rect x="1659.5" y="323.5" width="9" height="53" fill="#5b9b97"/>
<rect x="1670.5" y="326.5" width="8" height="49" fill="#5b9b98"/>
<rect x="1680.5" y="332.5" width="9" height="41" fill="#5b9b98"/>
<rect x="1691.5" y="309.5" width="9" height="61" fill="#5b9b99"/>
<rect x="1702.5" y="309.5" width="9" height="65" fill="#5b9b99"/>
<rect x="1713.5" y="310.5" width="9" height="52" fill="#5b9b9a"/>
<rect x="1724.5" y="300.5" width="8" height="57" fill="#5b9b9a"/>
<rect x="1735.5" y="310.5" width="8" height="43" fill="#5b9b9b"/>
<rect x="1745.5" y="298.5" width="9" height="54" fill="#5c9b9c"/>
<rect x="1756.5" y="301.5" width="9" height="51" fill="#5c9b9d"/>
<rect x="1767.5" y="282.5" width="9" height="59" fill="#5c9c9e"/>
<rect x="1778.5" y="279.5" width="8" height="60" fill="#5d9c9f"/>
<rect x="1789.5" y="282.5" width="8" height="63" fill="#5d9ca0"/>
<rect x="1799.5" y="279.5" width="9" height="66" fill="#5e9ca1"/>
<rect x="1810.5" y="289.5" width="9" height="48" fill="#5e9da2"/>
<rect x="1821.5" y="290.5" width="9" height="37" fill="#5e9da2"/>
<rect x="1832.5" y="291.5" width="8" height="47" fill="#5f9da3"/>
<rect x="1843.5" y="271.5" width="8" height="60" fill="#5f9da4"/>
<rect x="1853.5" y="257.5" width="9" height="65" fill="#5f9ea5"/>
<rect x="1864.5" y="277.5" width="9" height="51" fill="#609ea6"/>
<rect x="1875.5" y="266.5" width="9" height="54" fill="#609ea7"/>
<rect x="1886.5" y="263.5" width="8" height="55" fill="#619ea8"/>
<rect x="1897.5" y="267.5" width="8" height="40" fill="#619fa9"/>
<rect x="1907.5" y="259.5" width="9" height="52" fill="#619faa"/>
<rect x="1918.5" y="260.5" width="9" height="51" fill="#629fab"/>
<rect x="1929.5" y="256.5" width="9" height="46" fill="#629fac"/>
<rect x="1940.5" y="255.5" width="8" height="45" fill="#63a0ad"/>
<rect x="1951.5" y="252.5" width="8" height="49" fill="#63a0af"/>
<rect x="1961.5" y="251.5" width="9" height="62" fill="#64a0b0"/>
<rect x="1972.5" y="254.5" width="9" height="43" fill="#64a1b1"/>
<rect x="1983.5" y="247.5" width="9" height="46" fill="#65a1b2"/>
<rect x="1994.5" y="233.5" width="8" height="57" fill="#65a1b3"/>
<rect x="2005.5" y="249.5" width="8" height="48" fill="#66a2b5"/>
<rect x="2015.5" y="253.5" width="9" height="42" fill="#66a2b6"/>
<rect x="2026.5" y="251.5" width="9" height="54" fill="#67a2b7"/>
<rect x="2037.5" y="235.5" width="9" height="42" fill="#67a3b9"/>
<rect x="2048.5" y="255.5" width="8" height="36" fill="#68a3ba"/>
<rect x="2059.5" y="247.5" width="8" height="36" fill="#68a4bc"/>
<rect x="2069.5" y="234.5" width="9" height="59" fill="#69a4bd"/>
<rect x="2080.5" y="238.5" width="9" height="57" fill="#6aa4bf"/>
<rect x="2091.5" y="233.5" width="9" height="67" fill="#6ba5c1"/>
<rect x="2102.5" y="243.5" width="8" height="70" fill="#6ba5c3"/>
<rect x="2113.5" y="237.5" width="8" height="66" fill="#6ca6c5"/>
<rect x="2123.5" y="237.5" width="9" height="51" fill="#6da6c7"/>
<rect x="2134.5" y="236.5" width="9" height="60" fill="#6ea7c9"/>
<rect x="2145.5" y="256.5" width="9" height="38" fill="#75a9cb"/>
<rect x="2156.5" y="241.5" width="8" height="75" fill="#7baacd"/>
<rect x="2167.5" y="243.5" width="8" height="51" fill="#80accf"/>
<rect x="2177.5" y="248.5" width="9" height="45" fill="#85add0"/>
<rect x="2188.5" y="240.5" width="9" height="52" fill="#89aed2"/>
<rect x="2199.5" y="243.5" width="9" height="46" fill="#8dafd3"/>
<rect x="2210.5" y="240.5" width="8" height="64" fill="#91b0d4"/>
<rect x="2221.5" y="246.5" width="8" height="44" fill="#94b0d5"/>
<rect x="2231.5" y="242.5" width="9" height="43" fill="#98b1d7"/>
<rect x="2242.5" y="220.5" width="9" height="82" fill="#9bb2d8"/>
<rect x="2253.5" y="228.5" width="9" height="67" fill="#9eb2d9"/>
<rect x="2264.5" y="225.5" width="8" height="73" fill="#a0b3d9"/>
<rect x="2275.5" y="219.5" width="8" height="63" fill="#a3b3da"/>
<rect x="2285.5" y="216.5" width="9" height="66" fill="#a6b4db"/>
<rect x="2296.5" y="214.5" width="9" height="61" fill="#a8b4dc"/>
<rect x="2307.5" y="223.5" width="9" height="51" fill="#aab5dd"/>
<rect x="2318.5" y="226.5" width="8" height="71" fill="#adb5de"/>
<rect x="2329.5" y="228.5" width="8" height="68" fill="#afb5de"/>
<rect x="2339.5" y="226.5" width="9" height="50" fill="#b1b6df"/>
<rect x="2350.5" y="225.5" width="9" height="67" fill="#b3b6e0"/>
<rect x="2361.5" y="211.5" width="9" height="66" fill="#b5b6e0"/>
<rect x="2372.5" y="238.5" width="8" height="38" fill="#b7b6e1"/>
<rect x="2383.5" y="222.5" width="8" height="52" fill="#b8b5e0"/>
<rect x="2393.5" y="219.5" width="9" height="52" fill="#b9b5e0"/>
<rect x="2404.5" y="211.5" width="9" height="69" fill="#bab4e0"/>
<rect x="2415.5" y="208.5" width="9" height="65" fill="#bbb3e0"/>
<rect x="2426.5" y="228.5" width="8" height="38" fill="#bcb3e0"/>
<rect x="2437.5" y="225.5" width="8" height="57" fill="#bdb2df"/>
<rect x="2447.5" y="213.5" width="9" height="67" fill="#beb2df"/>
<rect x="2458.5" y="220.5" width="9" height="63" fill="#bfb1df"/>
<rect x="2469.5" y="214.5" width="9" height="70" fill="#c0b0df"/>
<rect x="2480.5" y="217.5" width="8" height="49" fill="#c1afde"/>
<rect x="2491.5" y="199.5" width="8" height="42" fill="#c2afde"/>
<rect x="2501.5" y="217.5" width="9" height="55" fill="#c3aede"/>
<rect x="2512.5" y="202.5" width="9" height="60" fill="#c4adde"/>
<rect x="2523.5" y="189.5" width="9" height="66" fill="#c5addd"/>
<rect x="2534.5" y="198.5" width="8" height="61" fill="#c6acdd"/>
<rect x="2545.5" y="195.5" width="8" height="47" fill="#c7abdd"/>
<rect x="2555.5" y="191.5" width="9" height="47" fill="#c8aadd"/>
<rect x="2566.5" y="200.5" width="9" height="39" fill="#c9a9dc"/>
<rect x="2577.5" y="199.5" width="9" height="48" fill="#caa8dc"/>
<rect x="2588.5" y="202.5" width="8" height="47" fill="#cba8dc"/>
<rect x="2599.5" y="207.5" width="8" height="54" fill="#cca7db"/>
<rect x="2609.5" y="206.5" width="9" height="48" fill="#cca6db"/>
<rect x="2620.5" y="185.5" width="9" height="65" fill="#cda5db"/>
<rect x="2631.5" y="210.5" width="9" height="60" fill="#cea4da"/>
<rect x="2642.5" y="183.5" width="8" height="74" fill="#cfa3da"/>
<rect x="2653.5" y="181.5" width="8" height="68" fill="#d0a1da"/>
<rect x="2663.5" y="209.5" width="9" height="32" fill="#d1a0d9"/>
<rect x="2674.5" y="180.5" width="9" height="56" fill="#d29fd9"/>
<rect x="2685.5" y="182.5" width="9" height="63" fill="#d39ed8"/>
<rect x="2696.5" y="203.5" width="8" height="57" fill="#d49cd8"/>
<rect x="2707.5" y="209.5" width="8" height="42" fill="#d59bd8"/>
<rect x="2717.5" y="202.5" width="9" height="39" fill="#d699d7"/>
<rect x="2728.5" y="191.5" width="9" height="47" fill="#d698d6"/>
<rect x="2739.5" y="199.5" width="9" height="52" fill="#d798d5"/>
<rect x="2750.5" y="171.5" width="8" height="71" fill="#d799d4"/>
<rect x="2761.5" y="189.5" width="8" height="57" fill="#d799d3"/>
<rect x="2771.5" y="199.5" width="9" height="59" fill="#d79ad2"/>
<rect x="2782.5" y="199.5" width="9" height="49" fill="#d79ad1"/>
<rect x="2793.5" y="196.5" width="9" height="46" fill="#d89bd0"/>
<rect x="2804.5" y="188.5" width="8" height="60" fill="#d89bce"/>
<rect x="2815.5" y="194.5" width="8" height="37" fill="#d89bcd"/>
<rect x="2825.5" y="205.5" width="9" height="35" fill="#d89ccc"/>
<rect x="2836.5" y="205.5" width="9" height="39" fill="#d89ccb"/>
<rect x="2847.5" y="189.5" width="9" height="51" fill="#d89ccb"/>
<rect x="2858.5" y="210.5" width="9" height="46" fill="#d99dca"/>
<rect x="2869.5" y="209.5" width="8" height="42" fill="#d99dc9"/>
<rect x="2879.5" y="206.5" width="9" height="36" fill="#d99dc8"/>
<rect x="2890.5" y="203.5" width="9" height="47" fill="#d99dc7"/>
<rect x="2901.5" y="204.5" width="9" height="50" fill="#d99ec6"/>
<rect x="2912.5" y="213.5" width="9" height="22" fill="#d99ec5"/>
<rect x="2923.5" y="207.5" width="8" height="47" fill="#d99ec4"/>
<rect x="2933.5" y="244.5" width="9" height="22" fill="#d99fc3"/>
<rect x="2944.5" y="210.5" width="9" height="44" fill="#d99fc2"/>
<rect x="2955.5" y="229.5" width="9" height="44" fill="#da9fc2"/>
<rect x="2966.5" y="228.5" width="9" height="36" fill="#da9fc1"/>
<rect x="2977.5" y="232.5" width="8" height="44" fill="#da9fc0"/>
<rect x="2987.5" y="243.5" width="9" height="39" fill="#daa0bf"/>
<rect x="2998.5" y="239.5" width="9" height="48" fill="#daa0be"/>
<rect x="3009.5" y="242.5" width="9" height="42" fill="#daa0bd"/>
<rect x="3020.5" y="239.5" width="9" height="31" fill="#daa0bd"/>
<rect x="3031.5" y="262.5" width="8" height="28" fill="#daa1bc"/>
<rect x="3041.5" y="235.5" width="9" height="37" fill="#daa1bb"/>
<rect x="3052.5" y="220.5" width="9" height="69" fill="#daa1ba"/>
<rect x="3063.5" y="249.5" width="9" height="33" fill="#daa1b9"/>
<rect x="3074.5" y="228.5" width="9" height="47" fill="#dba1b8"/>
<rect x="3085.5" y="244.5" width="8" height="34" fill="#dba2b8"/>
<rect x="3095.5" y="232.5" width="9" height="51" fill="#dba2b7"/>
<rect x="3106.5" y="208.5" width="9" height="81" fill="#dba2b6"/>
<rect x="3117.5" y="232.5" width="9" height="54" fill="#dba2b5"/>
<rect x="3128.5" y="241.5" width="9" height="45" fill="#dba2b4"/>
<rect x="3139.5" y="219.5" width="8" height="54" fill="#dba3b3"/>
<rect x="3150.5" y="229.5" width="8" height="41" fill="#dba3b2"/>
<rect x="3160.5" y="226.5" width="9" height="50" fill="#dba3b1"/>
<rect x="3171.5" y="223.5" width="9" height="56" fill="#dba3b0"/>
<rect x="3182.5" y="226.5" width="9" height="56" fill="#dba3af"/>
<rect x="3193.5" y="246.5" width="8" height="37" fill="#dca4ae"/>
</g>
<path d="M93.5 245.5H101.5M103.5 249.5H112.5M114.5 240.5H123.5M125.5 240.5H134.5M136.5 254.5H145.5M147.5 270.5H155.5M157.5 266.5H166.5M168.5 245.5H177.5M179.5 259.5H188.5M190.5 266.5H199.5M201.5 262.5H209.5M211.5 251.5H220.5M222.5 259.5H231.5M233.5 268.5H242.5M244.5 280.5H253.5M255.5 282.5H263.5M266.5 283.5H274.5M276.5 274.5H285.5M287.5 287.5H296.5M298.5 282.5H307.5M309.5 298.5H317.5M320.5 304.5H328.5M330.5 290.5H339.5M341.5 297.5H350.5M352.5 299.5H361.5M363.5 311.5H371.5M374.5 314.5H382.5M384.5 320.5H393.5M395.5 336.5H404.5M406.5 321.5H415.5M417.5 330.5H425.5M428.5 339.5H436.5M438.5 335.5H447.5M449.5 347.5H458.5M460.5 349.5H469.5M471.5 367.5H479.5M482.5 349.5H490.5M492.5 355.5H501.5M503.5 354.5H512.5M514.5 348.5H523.5M525.5 366.5H533.5M536.5 365.5H544.5M546.5 352.5H555.5M557.5 362.5H566.5M568.5 359.5H577.5M579.5 361.5H587.5M590.5 355.5H598.5M600.5 358.5H609.5M611.5 353.5H620.5M622.5 359.5H631.5M633.5 358.5H641.5M644.5 363.5H652.5M654.5 356.5H663.5M665.5 363.5H674.5M676.5 350.5H685.5M687.5 349.5H695.5M698.5 346.5H706.5M708.5 355.5H717.5M719.5 345.5H728.5M730.5 350.5H739.5M741.5 344.5H749.5M752.5 344.5H760.5M762.5 343.5H771.5M773.5 352.5H782.5M784.5 355.5H793.5M795.5 350.5H803.5M806.5 344.5H814.5M816.5 344.5H825.5M827.5 339.5H836.5M838.5 353.5H847.5M849.5 348.5H857.5M860.5 317.5H868.5M870.5 321.5H879.5M881.5 331.5H890.5M892.5 346.5H901.5M903.5 332.5H911.5M914.5 329.5H922.5M924.5 319.5H933.5M935.5 338.5H944.5M946.5 328.5H955.5M957.5 324.5H965.5M968.5 344.5H976.5M978.5 338.5H987.5M989.5 330.5H998.5M1000.5 311.5H1009.5M1011.5 341.5H1019.5M1022.5 320.5H1030.5M1032.5 341.5H1041.5M1043.5 351.5H1052.5M1054.5 341.5H1063.5M1065.5 335.5H1073.5M1076.5 348.5H1084.5M1086.5 339.5H1095.5M1097.5 344.5H1106.5M1108.5 348.5H1117.5M1119.5 358.5H1127.5M1130.5 355.5H1138.5M1140.5 347.5H1149.5M1151.5 355.5H1160.5M1162.5 367.5H1171.5M1173.5 366.5H1181.5M1184.5 369.5H1192.5M1194.5 362.5H1203.5M1205.5 379.5H1214.5M1216.5 383.5H1225.5M1227.5 382.5H1235.5M1238.5 373.5H1246.5M1248.5 375.5H1257.5M1259.5 373.5H1268.5M1270.5 390.5H1279.5M1281.5 385.5H1289.5M1292.5 387.5H1300.5M1302.5 391.5H1311.5M1313.5 397.5H1322.5M1324.5 398.5H1333.5M1335.5 397.5H1343.5M1346.5 389.5H1354.5M1356.5 399.5H1365.5M1367.5 399.5H1376.5M1378.5 408.5H1387.5M1389.5 383.5H1398.5M1400.5 404.5H1408.5M1410.5 408.5H1419.5M1421.5 399.5H1430.5M1432.5 389.5H1441.5M1443.5 386.5H1452.5M1454.5 399.5H1462.5M1464.5 392.5H1473.5M1475.5 394.5H1484.5M1486.5 386.5H1495.5M1497.5 382.5H1506.5M1508.5 374.5H1516.5M1518.5 371.5H1527.5M1529.5 376.5H1538.5M1540.5 378.5H1549.5M1551.5 382.5H1560.5M1562.5 380.5H1570.5M1572.5 366.5H1581.5M1583.5 368.5H1592.5M1594.5 351.5H1603.5M1605.5 346.5H1614.5M1616.5 365.5H1624.5M1626.5 362.5H1635.5M1637.5 362.5H1646.5M1648.5 349.5H1657.5M1659.5 355.5H1668.5M1670.5 355.5H1678.5M1680.5 343.5H1689.5M1691.5 337.5H1700.5M1702.5 342.5H1711.5M1713.5 331.5H1722.5M1724.5 331.5H1732.5M1735.5 333.5H1743.5M1745.5 323.5H1754.5M1756.5 325.5H1765.5M1767.5 319.5H1776.5M1778.5 312.5H1786.5M1789.5 305.5H1797.5M1799.5 320.5H1808.5M1810.5 302.5H1819.5M1821.5 310.5H1830.5M1832.5 321.5H1840.5M1843.5 301.5H1851.5M1853.5 296.5H1862.5M1864.5 299.5H1873.5M1875.5 294.5H1884.5M1886.5 295.5H1894.5M1897.5 281.5H1905.5M1907.5 284.5H1916.5M1918.5 299.5H1927.5M1929.5 272.5H1938.5M1940.5 289.5H1948.5M1951.5 285.5H1959.5M1961.5 285.5H1970.5M1972.5 268.5H1981.5M1983.5 264.5H1992.5M1994.5 264.5H2002.5M2005.5 267.5H2013.5M2015.5 261.5H2024.5M2026.5 264.5H2035.5M2037.5 252.5H2046.5M2048.5 276.5H2056.5M2059.5 265.5H2067.5M2069.5 267.5H2078.5M2080.5 276.5H2089.5M2091.5 271.5H2100.5M2102.5 290.5H2110.5M2113.5 279.5H2121.5M2123.5 269.5H2132.5M2134.5 270.5H2143.5M2145.5 265.5H2154.5M2156.5 279.5H2164.5M2167.5 261.5H2175.5M2177.5 265.5H2186.5M2188.5 265.5H2197.5M2199.5 268.5H2208.5M2210.5 282.5H2218.5M2221.5 268.5H2229.5M2231.5 265.5H2240.5M2242.5 255.5H2251.5M2253.5 256.5H2262.5M2264.5 273.5H2272.5M2275.5 271.5H2283.5M2285.5 257.5H2294.5M2296.5 246.5H2305.5M2307.5 267.5H2316.5M2318.5 250.5H2326.5M2329.5 263.5H2337.5M2339.5 256.5H2348.5M2350.5 254.5H2359.5M2361.5 258.5H2370.5M2372.5 266.5H2380.5M2383.5 255.5H2391.5M2393.5 248.5H2402.5M2404.5 260.5H2413.5M2415.5 243.5H2424.5M2426.5 237.5H2434.5M2437.5 243.5H2445.5M2447.5 263.5H2456.5M2458.5 252.5H2467.5M2469.5 250.5H2478.5M2480.5 233.5H2488.5M2491.5 229.5H2499.5M2501.5 252.5H2510.5M2512.5 245.5H2521.5M2523.5 231.5H2532.5M2534.5 221.5H2542.5M2545.5 223.5H2553.5M2555.5 221.5H2564.5M2566.5 216.5H2575.5M2577.5 214.5H2586.5M2588.5 218.5H2596.5M2599.5 226.5H2607.5M2609.5 214.5H2618.5M2620.5 226.5H2629.5M2631.5 233.5H2640.5M2642.5 233.5H2650.5M2653.5 215.5H2661.5M2663.5 226.5H2672.5M2674.5 216.5H2683.5M2685.5 223.5H2694.5M2696.5 226.5H2704.5M2707.5 227.5H2715.5M2717.5 223.5H2726.5M2728.5 217.5H2737.5M2739.5 222.5H2748.5M2750.5 213.5H2758.5M2761.5 227.5H2769.5M2771.5 224.5H2780.5M2782.5 228.5H2791.5M2793.5 225.5H2802.5M2804.5 228.5H2812.5M2815.5 211.5H2823.5M2825.5 225.5H2834.5M2836.5 226.5H2845.5M2847.5 209.5H2856.5M2858.5 227.5H2867.5M2869.5 224.5H2877.5M2879.5 222.5H2888.5M2890.5 222.5H2899.5M2901.5 236.5H2910.5M2912.5 223.5H2921.5M2923.5 235.5H2931.5M2933.5 253.5H2942.5M2944.5 242.5H2953.5M2955.5 254.5H2964.5M2966.5 255.5H2975.5M2977.5 265.5H2985.5M2987.5 273.5H2996.5M2998.5 265.5H3007.5M3009.5 259.5H3018.5M3020.5 254.5H3029.5M3031.5 270.5H3039.5M3041.5 260.5H3050.5M3052.5 247.5H3061.5M3063.5 270.5H3072.5M3074.5 247.5H3083.5M3085.5 269.5H3093.5M3095.5 257.5H3104.5M3106.5 259.5H3115.5M3117.5 255.5H3126.5M3128.5 272.5H3137.5M3139.5 249.5H3147.5M3150.5 253.5H3158.5M3160.5 257.5H3169.5M3171.5 262.5H3180.5M3182.5 259.5H3191.5M3193.5 258.5H3201.5" stroke="#454545" stroke-width="0.69" fill="none" stroke-linecap="square"/>
<path d="M173.5 312.62l2.95 4.91l-2.95 4.91l-2.95 -4.91zM399.5 229.84l2.95 4.91l-2.95 4.91l-2.95 -4.91zM173.5 361.69l2.95 4.91l-2.95 4.91l-2.95 -4.91zM183.5 352.66l2.95 4.91l-2.95 4.91l-2.95 -4.91zM227.5 405.58l2.95 4.91l-2.95 4.91l-2.95 -4.91zM281.5 372.73l2.95 4.91l-2.95 4.91l-2.95 -4.91zM335.5 413.61l2.95 4.91l-2.95 4.91l-2.95 -4.91zM389.5 422.64l2.95 4.91l-2.95 4.91l-2.95 -4.91zM399.5 425.65l2.95 4.91l-2.95 4.91l-2.95 -4.91zM259.5 536.75l2.95 4.91l-2.95 4.91l-2.95 -4.91zM248.5 563.84l2.95 4.91l-2.95 4.91l-2.95 -4.91zM432.5 450.48l2.95 4.91l-2.95 4.91l-2.95 -4.91zM443.5 444.46l2.95 4.91l-2.95 4.91l-2.95 -4.91zM443.5 456.75l2.95 4.91l-2.95 4.91l-2.95 -4.91zM453.5 465.78l2.95 4.91l-2.95 4.91l-2.95 -4.91zM464.5 460.51l2.95 4.91l-2.95 4.91l-2.95 -4.91zM486.5 477.56l2.95 4.91l-2.95 4.91l-2.95 -4.91zM497.5 446.72l2.95 4.91l-2.95 4.91l-2.95 -4.91zM497.5 478.57l2.95 4.91l-2.95 4.91l-2.95 -4.91zM507.5 479.57l2.95 4.91l-2.95 4.91l-2.95 -4.91zM518.5 469.54l2.95 4.91l-2.95 4.91l-2.95 -4.91zM529.5 487.6l2.95 4.91l-2.95 4.91l-2.95 -4.91zM540.5 492.61l2.95 4.91l-2.95 4.91l-2.95 -4.91zM540.5 506.66l2.95 4.91l-2.95 4.91l-2.95 -4.91zM551.5 490.61l2.95 4.91l-2.95 4.91l-2.95 -4.91zM561.5 489.85l2.95 4.91l-2.95 4.91l-2.95 -4.91zM583.5 496.63l2.95 4.91l-2.95 4.91l-2.95 -4.91zM594.5 493.62l2.95 4.91l-2.95 4.91l-2.95 -4.91zM605.5 504.65l2.95 4.91l-2.95 4.91l-2.95 -4.91zM615.5 487.6l2.95 4.91l-2.95 4.91l-2.95 -4.91zM626.5 486.59l2.95 4.91l-2.95 4.91l-2.95 -4.91zM637.5 488.85l2.95 4.91l-2.95 4.91l-2.95 -4.91zM648.5 491.61l2.95 4.91l-2.95 4.91l-2.95 -4.91zM659.5 485.59l2.95 4.91l-2.95 4.91l-2.95 -4.91zM669.5 490.61l2.95 4.91l-2.95 4.91l-2.95 -4.91zM680.5 481.83l2.95 4.91l-2.95 4.91l-2.95 -4.91zM691.5 487.6l2.95 4.91l-2.95 4.91l-2.95 -4.91zM702.5 477.56l2.95 4.91l-2.95 4.91l-2.95 -4.91zM713.5 468.79l2.95 4.91l-2.95 4.91l-2.95 -4.91zM734.5 460.51l2.95 4.91l-2.95 4.91l-2.95 -4.91zM475.5 550.8l2.95 4.91l-2.95 4.91l-2.95 -4.91zM561.5 562.84l2.95 4.91l-2.95 4.91l-2.95 -4.91zM572.5 533.74l2.95 4.91l-2.95 4.91l-2.95 -4.91zM777.5 253.34l2.95 4.91l-2.95 4.91l-2.95 -4.91zM853.5 230.34l2.95 4.91l-2.95 4.91l-2.95 -4.91zM853.5 244.59l2.95 4.91l-2.95 4.91l-2.95 -4.91zM853.5 252.84l2.95 4.91l-2.95 4.91l-2.95 -4.91zM896.5 208.59l2.95 4.91l-2.95 4.91l-2.95 -4.91zM940.5 206.59l2.95 4.91l-2.95 4.91l-2.95 -4.91zM983.5 227.59l2.95 4.91l-2.95 4.91l-2.95 -4.91zM1048.5 229.59l2.95 4.91l-2.95 4.91l-2.95 -4.91zM1058.5 241.59l2.95 4.91l-2.95 4.91l-2.95 -4.91zM756.5 465.78l2.95 4.91l-2.95 4.91l-2.95 -4.91zM777.5 466.78l2.95 4.91l-2.95 4.91l-2.95 -4.91zM788.5 453.49l2.95 4.91l-2.95 4.91l-2.95 -4.91zM821.5 458.75l2.95 4.91l-2.95 4.91l-2.95 -4.91zM832.5 450.73l2.95 4.91l-2.95 4.91l-2.95 -4.91zM853.5 407.84l2.95 4.91l-2.95 4.91l-2.95 -4.91zM853.5 442.95l2.95 4.91l-2.95 4.91l-2.95 -4.91zM896.5 432.67l2.95 4.91l-2.95 4.91l-2.95 -4.91zM907.5 439.69l2.95 4.91l-2.95 4.91l-2.95 -4.91zM1285.5 302.42l2.95 4.91l-2.95 4.91l-2.95 -4.91zM1296.5 308.2l2.95 4.91l-2.95 4.91l-2.95 -4.91zM1296.5 320.03l2.95 4.91l-2.95 4.91l-2.95 -4.91zM1296.5 325.06l2.95 4.91l-2.95 4.91l-2.95 -4.91zM1339.5 315.5l2.95 4.91l-2.95 4.91l-2.95 -4.91zM1080.5 249.59l2.95 4.91l-2.95 4.91l-2.95 -4.91zM1166.5 226.59l2.95 4.91l-2.95 4.91l-2.95 -4.91zM1188.5 264.34l2.95 4.91l-2.95 4.91l-2.95 -4.91zM1199.5 273.34l2.95 4.91l-2.95 4.91l-2.95 -4.91zM1210.5 277.09l2.95 4.91l-2.95 4.91l-2.95 -4.91zM1145.5 496.63l2.95 4.91l-2.95 4.91l-2.95 -4.91zM1199.5 454.74l2.95 4.91l-2.95 4.91l-2.95 -4.91zM1210.5 447.72l2.95 4.91l-2.95 4.91l-2.95 -4.91zM1274.5 453.74l2.95 4.91l-2.95 4.91l-2.95 -4.91zM1296.5 446.72l2.95 4.91l-2.95 4.91l-2.95 -4.91zM1307.5 469.79l2.95 4.91l-2.95 4.91l-2.95 -4.91zM1339.5 448.47l2.95 4.91l-2.95 4.91l-2.95 -4.91zM1523.5 285.47l2.95 4.91l-2.95 4.91l-2.95 -4.91zM1458.5 443.43l2.95 4.91l-2.95 4.91l-2.95 -4.91zM1523.5 434.4l2.95 4.91l-2.95 4.91l-2.95 -4.91zM1588.5 504.66l2.95 4.91l-2.95 4.91l-2.95 -4.91zM1620.5 538.54l2.95 4.91l-2.95 4.91l-2.95 -4.91zM1944.5 180.59l2.95 4.91l-2.95 4.91l-2.95 -4.91zM1976.5 183.34l2.95 4.91l-2.95 4.91l-2.95 -4.91zM1944.5 396.81l2.95 4.91l-2.95 4.91l-2.95 -4.91zM1858.5 476.81l2.95 4.91l-2.95 4.91l-2.95 -4.91zM1890.5 481.83l2.95 4.91l-2.95 4.91l-2.95 -4.91zM1868.5 507.91l2.95 4.91l-2.95 4.91l-2.95 -4.91zM1922.5 516.94l2.95 4.91l-2.95 4.91l-2.95 -4.91zM1890.5 531.74l2.95 4.91l-2.95 4.91l-2.95 -4.91zM1879.5 562.84l2.95 4.91l-2.95 4.91l-2.95 -4.91zM1912.5 562.84l2.95 4.91l-2.95 4.91l-2.95 -4.91zM2052.5 192.65l2.95 4.91l-2.95 4.91l-2.95 -4.91zM2063.5 171.58l2.95 4.91l-2.95 4.91l-2.95 -4.91zM2149.5 165.56l2.95 4.91l-2.95 4.91l-2.95 -4.91zM2333.5 116.66l2.95 4.91l-2.95 4.91l-2.95 -4.91zM2344.5 102.61l2.95 4.91l-2.95 4.91l-2.95 -4.91zM2052.5 342.63l2.95 4.91l-2.95 4.91l-2.95 -4.91zM2355.5 540.77l2.95 4.91l-2.95 4.91l-2.95 -4.91zM2387.5 139.59l2.95 4.91l-2.95 4.91l-2.95 -4.91zM2571.5 132.84l2.95 4.91l-2.95 4.91l-2.95 -4.91zM2581.5 96.84l2.95 4.91l-2.95 4.91l-2.95 -4.91zM2668.5 89.59l2.95 4.91l-2.95 4.91l-2.95 -4.91zM2549.5 315.75l2.95 4.91l-2.95 4.91l-2.95 -4.91zM2614.5 369.85l2.95 4.91l-2.95 4.91l-2.95 -4.91zM2657.5 394.76l2.95 4.91l-2.95 4.91l-2.95 -4.91zM2635.5 562.84l2.95 4.91l-2.95 4.91l-2.95 -4.91zM2646.5 542.77l2.95 4.91l-2.95 4.91l-2.95 -4.91zM2689.5 548.79l2.95 4.91l-2.95 4.91l-2.95 -4.91zM2992.5 163.59l2.95 4.91l-2.95 4.91l-2.95 -4.91zM2938.5 184.09l2.95 4.91l-2.95 4.91l-2.95 -4.91zM2938.5 194.09l2.95 4.91l-2.95 4.91l-2.95 -4.91zM2938.5 199.09l2.95 4.91l-2.95 4.91l-2.95 -4.91zM2722.5 80.09l2.95 4.91l-2.95 4.91l-2.95 -4.91zM2830.5 119.84l2.95 4.91l-2.95 4.91l-2.95 -4.91zM2981.5 147.59l2.95 4.91l-2.95 4.91l-2.95 -4.91zM2700.5 359.28l2.95 4.91l-2.95 4.91l-2.95 -4.91zM3035.5 175.59l2.95 4.91l-2.95 4.91l-2.95 -4.91zM3046.5 166.59l2.95 4.91l-2.95 4.91l-2.95 -4.91zM3067.5 172.59l2.95 4.91l-2.95 4.91l-2.95 -4.91zM3067.5 186.59l2.95 4.91l-2.95 4.91l-2.95 -4.91zM3089.5 167.59l2.95 4.91l-2.95 4.91l-2.95 -4.91zM3154.5 157.59l2.95 4.91l-2.95 4.91l-2.95 -4.91zM3165.5 143.84l2.95 4.91l-2.95 4.91l-2.95 -4.91zM3024.5 313.49l2.95 4.91l-2.95 4.91l-2.95 -4.91zM3024.5 317.51l2.95 4.91l-2.95 4.91l-2.95 -4.91zM3035.5 205.34l2.95 4.91l-2.95 4.91l-2.95 -4.91zM2916.5 266.09l2.95 4.91l-2.95 4.91l-2.95 -4.91zM2916.5 269.59l2.95 4.91l-2.95 4.91l-2.95 -4.91z" fill="#454545" stroke="#454545" stroke-width="1.25" stroke-linejoin="miter"/>
<path d="M97.1 237L107.9 278.28L118.7 263.59L129.5 247.64L140.31 283.85L151.11 279.8L161.91 290.94L172.71 259.79L183.51 285.12L194.31 232.69L205.12 283.85L215.92 308.42L226.72 266.88L237.52 278.79L248.32 319.56L259.12 317.53L269.92 319.56L280.73 307.91L291.53 311.45L302.33 337.76L313.13 322.34L323.93 315L334.73 301.07L345.53 319.31L356.34 337.01L367.14 334L377.94 337.51L388.74 320.82L399.54 315.76L410.34 328.17L421.15 337.76L431.95 337.77L442.75 321.42L453.55 336.51L464.35 339.03L475.15 356.64L485.95 338.02L496.76 360.42L507.56 399.67L518.36 389.35L529.16 388.09L539.96 417.78L550.76 389.85L561.56 409.98L572.37 394.64L583.17 410.74L593.97 390.86L604.77 404.7L615.57 408.47L626.37 405.45L637.18 412.5L647.98 419.55L658.78 402.44L669.58 433.07L680.38 417.03L691.18 410.99L701.98 408.98L712.79 398.16L723.59 412L734.39 407.47L745.19 404.01L755.99 398.49L766.79 401.5L777.59 418.52L788.4 424.79L799.2 424.79L810 408.49L820.8 372.64L831.6 382.18L842.4 373.14L853.21 386.7L864.01 387.45L874.81 379.42L885.61 390.46L896.41 370.64L907.21 389.21L918.01 377.16L928.82 379.17L939.62 357.34L950.42 346.8L961.22 373.4L972.02 382.93L982.82 385.44L993.62 363.11L1004.43 371.39L1015.23 376.91L1026.03 357.08L1036.83 362.35L1047.63 346.55L1058.43 354.32L1069.24 369.22L1080.04 359.41L1090.84 353.87L1101.64 351.61L1112.44 355.89L1123.24 393.38L1134.04 404.95L1144.85 405.2L1155.65 400.93L1166.45 385.33L1177.25 394.64L1188.05 376.27L1198.85 397.4L1209.65 405.71L1220.46 393.38L1231.26 390.86L1242.06 385.33L1252.86 428.85L1263.66 412.25L1274.46 409.23L1285.27 413L1296.07 419.29L1306.87 417.78L1317.67 415.02L1328.47 413.76L1339.27 427.85L1350.07 425.84L1360.88 421.81L1371.68 405.2L1382.48 413.51L1393.28 419.77L1404.08 420.02L1414.88 389.43L1425.68 420.02L1436.49 391.43L1447.29 398.45L1458.09 379.14L1468.89 388.92L1479.69 378.64L1490.49 369.11L1501.3 383.91L1512.1 369.61L1522.9 359.33L1533.7 378.39L1544.5 355.82L1555.3 347.29L1566.1 318.2L1576.91 339.01L1587.71 321.46L1598.51 288.87L1609.31 295.4L1620.11 311.43L1630.91 320.96L1641.71 296.15L1652.52 302.42L1663.32 271.81L1674.12 263.02L1684.92 264.03L1695.72 273.56L1706.52 277.33L1717.33 265.03L1728.13 264.53L1738.93 247.72L1749.73 223.39L1760.53 235.93L1771.33 228.66L1782.13 228.91L1792.94 244.96L1803.74 233.93L1814.54 217.88L1825.34 215.87L1836.14 247.72L1846.94 223.39L1857.74 228.41L1868.55 247.47L1879.35 202.75L1890.15 190.75L1900.95 201.75L1911.75 209.5L1922.55 242.71L1933.36 216.87L1944.16 238.44L1954.96 228.16L1965.76 247.47L1976.56 229.16L1987.36 228.41L1998.16 261.01L2008.97 192.75L2019.77 196.75L2030.57 217.75L2041.37 243.95L2052.17 203.55L2062.97 234.92L2073.77 238.18L2084.58 212.84L2095.38 204.3L2106.18 217.35L2116.98 228.14L2127.78 239.19L2138.58 250.98L2149.39 242.2L2160.19 232.91L2170.99 200.04L2181.79 199.03L2192.59 231.91L2203.39 214.34L2214.19 216.6L2225 248.47L2235.8 216.6L2246.6 217.86L2257.4 209.82L2268.2 231.66L2279 229.4L2289.8 229.9L2300.61 217.86L2311.41 247.47L2322.21 219.86L2333.01 196.78L2343.81 215.6L2354.61 210.83L2365.41 229.75L2376.22 186.5L2387.02 221L2397.82 182.75L2408.62 207.75L2419.42 160L2430.22 139L2441.03 190.25L2451.83 199.75L2462.63 161.25L2473.43 175.5L2484.23 137.75L2495.03 138L2505.83 334.5M2538.24 538.15L2549.04 242L2559.84 104.5L2570.64 113.75L2581.45 110.75L2592.25 163.25L2603.05 97.25L2613.85 117L2624.65 110L2635.45 147L2646.25 112.5L2657.06 153.25L2667.86 137.5L2678.66 78.25L2689.46 145.75L2700.26 124.75L2711.06 134L2721.86 182.75L2732.67 136.25L2743.47 186.5L2754.27 147.5L2765.07 181.5L2775.87 180L2786.67 200L2797.47 200.25L2808.28 194L2819.08 173L2829.88 192.75L2840.68 183.75L2851.48 217L2862.28 222L2873.09 217L2883.89 227L2894.69 217.25L2905.49 184.75L2916.29 194.25L2927.09 216.5L2937.89 182.75L2948.7 197.25L2959.5 213.5L2970.3 249.5L2981.1 248.25L2991.9 187.75L3002.7 223.75L3013.51 188.5L3024.31 257.75L3035.11 200.25L3045.91 201.5L3056.71 211.5L3067.51 270.75L3078.31 245.25L3089.12 241L3099.92 243.5L3110.72 271.5L3121.52 296L3132.32 278.25L3143.12 245.5L3153.92 258.75L3164.73 263L3175.53 251.5L3186.33 292" stroke="#0000ff" stroke-width="2.08" fill="none" stroke-linejoin="round" stroke-linecap="square"/>
<path d="M125 54V591" stroke="#4c72b0" stroke-width="2.08" fill="none"/>
<path d="M326.1 54V591" stroke="#4c72b0" stroke-width="2.08" fill="none"/>
<path d="M1301 54V591" stroke="#4c72b0" stroke-width="2.08" fill="none"/>
<path d="M2399 54V591" stroke="#4c72b0" stroke-width="2.08" fill="none"/>
<path d="M3115 54V591" stroke="#4c72b0" stroke-width="2.08" fill="none"/>
</g>
<g font-family="Liberation Sans, sans-serif" fill="#262626" style="opacity:.999">
<text x="1384.13" y="23.4" font-size="17.3" textLength="99.79" lengthAdjust="spacingAndGlyphs">Comparison</text><text x="1489.21" y="23.4" font-size="17.3" textLength="16.07" lengthAdjust="spacingAndGlyphs">of</text><text x="1510.58" y="23.4" font-size="17.3" textLength="37.89" lengthAdjust="spacingAndGlyphs">Spot</text><text x="1553.77" y="23.4" font-size="17.3" textLength="58.18" lengthAdjust="spacingAndGlyphs">Counts</text><text x="1617.24" y="23.4" font-size="17.3" textLength="20.76" lengthAdjust="spacingAndGlyphs">on</text><text x="1643.3" y="23.4" font-size="17.3" textLength="95.43" lengthAdjust="spacingAndGlyphs">2025.09.07</text><text x="1744.02" y="23.4" font-size="17.3" textLength="16.73" lengthAdjust="spacingAndGlyphs">to</text><text x="1766.05" y="23.4" font-size="17.3" textLength="70.43" lengthAdjust="spacingAndGlyphs">Previous</text><text x="1841.77" y="23.4" font-size="17.3" textLength="21.21" lengthAdjust="spacingAndGlyphs">21</text><text x="1868.28" y="23.4" font-size="17.3" textLength="41.59" lengthAdjust="spacingAndGlyphs">Days</text>
<text x="1647" y="44.8" font-size="17.3" text-anchor="middle" textLength="37.44" lengthAdjust="spacingAndGlyphs">20m</text>
<text x="83" y="573.8" font-size="16" text-anchor="end" textLength="9.35" lengthAdjust="spacingAndGlyphs">0</text>
<text x="83" y="495.8" font-size="16" text-anchor="end" textLength="46.75" lengthAdjust="spacingAndGlyphs">10000</text>
<text x="83" y="417.8" font-size="16" text-anchor="end" textLength="46.75" lengthAdjust="spacingAndGlyphs">20000</text>
<text x="83" y="339.8" font-size="16" text-anchor="end" textLength="46.75" lengthAdjust="spacingAndGlyphs">30000</text>
<text x="83" y="261.8" font-size="16" text-anchor="end" textLength="46.75" lengthAdjust="spacingAndGlyphs">40000</text>
<text x="83" y="183.8" font-size="16" text-anchor="end" textLength="46.75" lengthAdjust="spacingAndGlyphs">50000</text>
<text x="83" y="106.8" font-size="16" text-anchor="end" textLength="46.75" lengthAdjust="spacingAndGlyphs">60000</text>
<text x="101.4" y="607.6" font-size="16" text-anchor="end" transform="rotate(-90 101.4 607.6)" textLength="53.6" lengthAdjust="spacingAndGlyphs">00:00Z</text>
<text x="166.21" y="607.6" font-size="16" text-anchor="end" transform="rotate(-90 166.21 607.6)" textLength="53.6" lengthAdjust="spacingAndGlyphs">00:30Z</text>
<text x="231.02" y="607.6" font-size="16" text-anchor="end" transform="rotate(-90 231.02 607.6)" textLength="53.6" lengthAdjust="spacingAndGlyphs">01:00Z</text>
<text x="295.83" y="607.6" font-size="16" text-anchor="end" transform="rotate(-90 295.83 607.6)" textLength="53.6" lengthAdjust="spacingAndGlyphs">01:30Z</text>
<text x="360.64" y="607.6" font-size="16" text-anchor="end" transform="rotate(-90 360.64 607.6)" textLength="53.6" lengthAdjust="spacingAndGlyphs">02:00Z</text>
<text x="425.44" y="607.6" font-size="16" text-anchor="end" transform="rotate(-90 425.44 607.6)" textLength="53.6" lengthAdjust="spacingAndGlyphs">02:30Z</text>
<text x="490.25" y="607.6" font-size="16" text-anchor="end" transform="rotate(-90 490.25 607.6)" textLength="53.6" lengthAdjust="spacingAndGlyphs">03:00Z</text>
<text x="555.06" y="607.6" font-size="16" text-anchor="end" transform="rotate(-90 555.06 607.6)" textLength="53.6" lengthAdjust="spacingAndGlyphs">03:30Z</text>
<text x="619.87" y="607.6" font-size="16" text-anchor="end" transform="rotate(-90 619.87 607.6)" textLength="53.6" lengthAdjust="spacingAndGlyphs">04:00Z</text>
<text x="684.68" y="607.6" font-size="16" text-anchor="end" transform="rotate(-90 684.68 607.6)" textLength="53.6" lengthAdjust="spacingAndGlyphs">04:30Z</text>
<text x="749.49" y="607.6" font-size="16" text-anchor="end" transform="rotate(-90 749.49 607.6)" textLength="53.6" lengthAdjust="spacingAndGlyphs">05:00Z</text>
<text x="814.3" y="607.6" font-size="16" text-anchor="end" transform="rotate(-90 814.3 607.6)" textLength="53.6" lengthAdjust="spacingAndGlyphs">05:30Z</text>
<text x="879.11" y="607.6" font-size="16" text-anchor="end" transform="rotate(-90 879.11 607.6)" textLength="53.6" lengthAdjust="spacingAndGlyphs">06:00Z</text>
<text x="943.92" y="607.6" font-size="16" text-anchor="end" transform="rotate(-90 943.92 607.6)" textLength="53.6" lengthAdjust="spacingAndGlyphs">06:30Z</text>
<text x="1008.73" y="607.6" font-size="16" text-anchor="end" transform="rotate(-90 1008.73 607.6)" textLength="53.6" lengthAdjust="spacingAndGlyphs">07:00Z</text>
<text x="1073.54" y="607.6" font-size="16" text-anchor="end" transform="rotate(-90 1073.54 607.6)" textLength="53.6" lengthAdjust="spacingAndGlyphs">07:30Z</text>
<text x="1138.34" y="607.6" font-size="16" text-anchor="end" transform="rotate(-90 1138.34 607.6)" textLength="53.6" lengthAdjust="spacingAndGlyphs">08:00Z</text>
<text x="1203.15" y="607.6" font-size="16" text-anchor="end" transform="rotate(-90 1203.15 607.6)" textLength="53.6" lengthAdjust="spacingAndGlyphs">08:30Z</text>
<text x="1267.96" y="607.6" font-size="16" text-anchor="end" transform="rotate(-90 1267.96 607.6)" textLength="53.6" lengthAdjust="spacingAndGlyphs">09:00Z</text>
<text x="1332.77" y="607.6" font-size="16" text-anchor="end" transform="rotate(-90 1332.77 607.6)" textLength="53.6" lengthAdjust="spacingAndGlyphs">09:30Z</text>
<text x="1397.58" y="607.6" font-size="16" text-anchor="end" transform="rotate(-90 1397.58 607.6)" textLength="53.6" lengthAdjust="spacingAndGlyphs">10:00Z</text>
<text x="1462.39" y="607.6" font-size="16" text-anchor="end" transform="rotate(-90 1462.39 607.6)" textLength="53.6" lengthAdjust="spacingAndGlyphs">10:30Z</text>
<text x="1527.2" y="607.6" font-size="16" text-anchor="end" transform="rotate(-90 1527.2 607.6)" textLength="53.6" lengthAdjust="spacingAndGlyphs">11:00Z</text>
<text x="1592.01" y="607.6" font-size="16" text-anchor="end" transform="rotate(-90 1592.01 607.6)" textLength="53.6" lengthAdjust="spacingAndGlyphs">11:30Z</text>
<text x="1656.82" y="607.6" font-size="16" text-anchor="end" transform="rotate(-90 1656.82 607.6)" textLength="53.6" lengthAdjust="spacingAndGlyphs">12:00Z</text>
<text x="1721.63" y="607.6" font-size="16" text-anchor="end" transform="rotate(-90 1721.63 607.6)" textLength="53.6" lengthAdjust="spacingAndGlyphs">12:30Z</text>
<text x="1786.43" y="607.6" font-size="16" text-anchor="end" transform="rotate(-90 1786.43 607.6)" textLength="53.6" lengthAdjust="spacingAndGlyphs">13:00Z</text>
<text x="1851.24" y="607.6" font-size="16" text-anchor="end" transform="rotate(-90 1851.24 607.6)" textLength="53.6" lengthAdjust="spacingAndGlyphs">13:30Z</text>
<text x="1916.05" y="607.6" font-size="16" text-anchor="end" transform="rotate(-90 1916.05 607.6)" textLength="53.6" lengthAdjust="spacingAndGlyphs">14:00Z</text>
<text x="1980.86" y="607.6" font-size="16" text-anchor="end" transform="rotate(-90 1980.86 607.6)" textLength="53.6" lengthAdjust="spacingAndGlyphs">14:30Z</text>
<text x="2045.67" y="607.6" font-size="16" text-anchor="end" transform="rotate(-90 2045.67 607.6)" textLength="53.6" lengthAdjust="spacingAndGlyphs">15:00Z</text>
<text x="2110.48" y="607.6" font-size="16" text-anchor="end" transform="rotate(-90 2110.48 607.6)" textLength="53.6" lengthAdjust="spacingAndGlyphs">15:30Z</text>
<text x="2175.29" y="607.6" font-size="16" text-anchor="end" transform="rotate(-90 2175.29 607.6)" textLength="53.6" lengthAdjust="spacingAndGlyphs">16:00Z</text>
<text x="2240.1" y="607.6" font-size="16" text-anchor="end" transform="rotate(-90 2240.1 607.6)" textLength="53.6" lengthAdjust="spacingAndGlyphs">16:30Z</text>
<text x="2304.91" y="607.6" font-size="16" text-anchor="end" transform="rotate(-90 2304.91 607.6)" textLength="53.6" lengthAdjust="spacingAndGlyphs">17:00Z</text>
<text x="2369.72" y="607.6" font-size="16" text-anchor="end" transform="rotate(-90 2369.72 607.6)" textLength="53.6" lengthAdjust="spacingAndGlyphs">17:30Z</text>
<text x="2434.52" y="607.6" font-size="16" text-anchor="end" transform="rotate(-90 2434.52 607.6)" textLength="53.6" lengthAdjust="spacingAndGlyphs">18:00Z</text>
<text x="2499.33" y="607.6" font-size="16" text-anchor="end" transform="rotate(-90 2499.33 607.6)" textLength="53.6" lengthAdjust="spacingAndGlyphs">18:30Z</text>
<text x="2564.14" y="607.6" font-size="16" text-anchor="end" transform="rotate(-90 2564.14 607.6)" textLength="53.6" lengthAdjust="spacingAndGlyphs">19:00Z</text>
<text x="2628.95" y="607.6" font-size="16" text-anchor="end" transform="rotate(-90 2628.95 607.6)" textLength="53.6" lengthAdjust="spacingAndGlyphs">19:30Z</text>
<text x="2693.76" y="607.6" font-size="16" text-anchor="end" transform="rotate(-90 2693.76 607.6)" textLength="53.6" lengthAdjust="spacingAndGlyphs">20:00Z</text>
<text x="2758.57" y="607.6" font-size="16" text-anchor="end" transform="rotate(-90 2758.57 607.6)" textLength="53.6" lengthAdjust="spacingAndGlyphs">20:30Z</text>
<text x="2823.38" y="607.6" font-size="16" text-anchor="end" transform="rotate(-90 2823.38 607.6)" textLength="53.6" lengthAdjust="spacingAndGlyphs">21:00Z</text>
<text x="2888.19" y="607.6" font-size="16" text-anchor="end" transform="rotate(-90 2888.19 607.6)" textLength="53.6" lengthAdjust="spacingAndGlyphs">21:30Z</text>
<text x="2953" y="607.6" font-size="16" text-anchor="end" transform="rotate(-90 2953 607.6)" textLength="53.6" lengthAdjust="spacingAndGlyphs">22:00Z</text>
<text x="3017.81" y="607.6" font-size="16" text-anchor="end" transform="rotate(-90 3017.81 607.6)" textLength="53.6" lengthAdjust="spacingAndGlyphs">22:30Z</text>
<text x="3082.61" y="607.6" font-size="16" text-anchor="end" transform="rotate(-90 3082.61 607.6)" textLength="53.6" lengthAdjust="spacingAndGlyphs">23:00Z</text>
<text x="3147.42" y="607.6" font-size="16" text-anchor="end" transform="rotate(-90 3147.42 607.6)" textLength="53.6" lengthAdjust="spacingAndGlyphs">23:30Z</text>
<text x="1584.28" y="680.6" font-size="21.8" textLength="50.97" lengthAdjust="spacingAndGlyphs">Time</text><text x="1641.88" y="680.6" font-size="21.8" textLength="20.08" lengthAdjust="spacingAndGlyphs">of</text><text x="1668.58" y="680.6" font-size="21.8" textLength="41.14" lengthAdjust="spacingAndGlyphs">Day</text>
<text x="-32.93" y="323.3" font-size="21.8" transform="rotate(-90 25 323.3)" textLength="47.37" lengthAdjust="spacingAndGlyphs">Spot</text><text x="21.06" y="323.3" font-size="21.8" transform="rotate(-90 25 323.3)" textLength="61.87" lengthAdjust="spacingAndGlyphs">Count</text>
<text x="128.4" y="105.8" font-size="17.3" textLength="24.91" lengthAdjust="spacingAndGlyphs">EM</text>
<text x="128.4" y="126.9" font-size="17.3" textLength="27.37" lengthAdjust="spacingAndGlyphs">Set</text>
<text x="329.5" y="105.8" font-size="17.3" textLength="27.21" lengthAdjust="spacingAndGlyphs">DM</text>
<text x="329.5" y="126.9" font-size="17.3" textLength="27.37" lengthAdjust="spacingAndGlyphs">Set</text>
<text x="1304.4" y="105.8" font-size="17.3" textLength="24.43" lengthAdjust="spacingAndGlyphs">PM</text>
<text x="1304.4" y="126.9" font-size="17.3" textLength="27.37" lengthAdjust="spacingAndGlyphs">Set</text>
<text x="2402.4" y="105.8" font-size="17.3" textLength="17.39" lengthAdjust="spacingAndGlyphs">JN</text>
<text x="2402.4" y="126.9" font-size="17.3" textLength="27.37" lengthAdjust="spacingAndGlyphs">Set</text>
<text x="3118.4" y="105.8" font-size="17.3" textLength="22.05" lengthAdjust="spacingAndGlyphs">FN</text>
<text x="3118.4" y="126.9" font-size="17.3" textLength="27.37" lengthAdjust="spacingAndGlyphs">Set</text>
</g>
</svg>
</body></html>
